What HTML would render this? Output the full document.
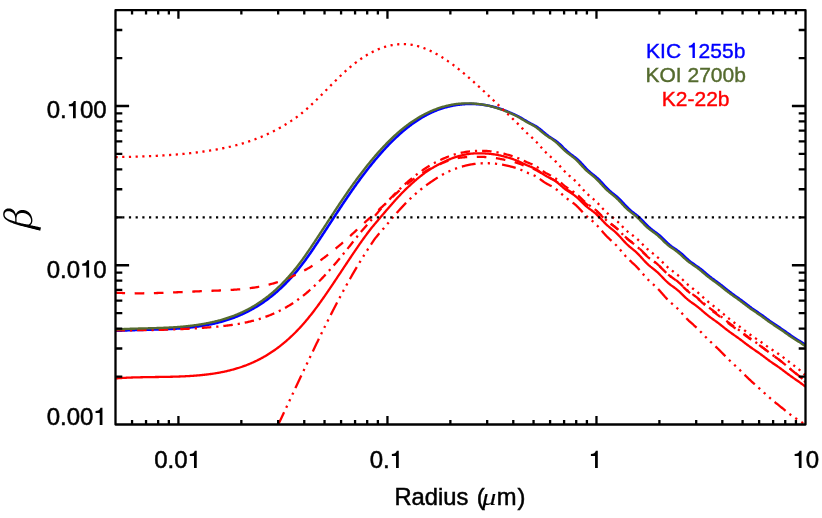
<!DOCTYPE html>
<html><head><meta charset="utf-8"><title>beta vs radius</title>
<style>html,body{margin:0;padding:0;background:#fff;}body{width:822px;height:518px;position:relative;overflow:hidden;font-family:"Liberation Sans",sans-serif;}</style></head>
<body>
<svg width="822" height="518" viewBox="0 0 822 518" style="position:absolute;left:0;top:0">
<rect x="0" y="0" width="822" height="518" fill="#fff"/>
<defs><clipPath id="c"><rect x="115.5" y="10.2" width="690.0" height="414.3"/></clipPath></defs>
<g clip-path="url(#c)" fill="none" stroke-linejoin="round">
<path d="M115.50 330.76 L116.27 330.76 L117.04 330.76 L117.80 330.76 L118.57 330.76 L119.34 330.73 L120.11 330.69 L120.87 330.65 L121.64 330.61 L122.41 330.57 L123.18 330.53 L123.94 330.49 L124.71 330.46 L125.48 330.42 L126.25 330.39 L127.01 330.36 L127.78 330.32 L128.55 330.29 L129.32 330.26 L130.08 330.23 L130.85 330.21 L131.62 330.18 L132.39 330.15 L133.15 330.13 L133.92 330.10 L134.69 330.08 L135.46 330.05 L136.22 330.03 L136.99 330.01 L137.76 329.98 L138.53 329.96 L139.29 329.94 L140.06 329.92 L140.83 329.90 L141.60 329.88 L142.36 329.86 L143.13 329.84 L143.90 329.82 L144.67 329.80 L145.43 329.78 L146.20 329.76 L146.97 329.74 L147.74 329.72 L148.50 329.70 L149.27 329.68 L150.04 329.66 L150.81 329.64 L151.57 329.62 L152.34 329.60 L153.11 329.58 L153.88 329.55 L154.64 329.53 L155.41 329.51 L156.18 329.49 L156.95 329.47 L157.71 329.44 L158.48 329.42 L159.25 329.39 L160.02 329.37 L160.78 329.34 L161.55 329.32 L162.32 329.29 L163.09 329.26 L163.85 329.23 L164.62 329.20 L165.39 329.17 L166.16 329.14 L166.92 329.11 L167.69 329.07 L168.46 329.04 L169.23 329.00 L169.99 328.96 L170.76 328.93 L171.53 328.89 L172.30 328.85 L173.06 328.80 L173.83 328.76 L174.60 328.72 L175.37 328.67 L176.13 328.62 L176.90 328.57 L177.67 328.52 L178.44 328.47 L179.20 328.42 L179.97 328.36 L180.74 328.30 L181.51 328.24 L182.27 328.18 L183.04 328.12 L183.81 328.06 L184.58 327.99 L185.34 327.92 L186.11 327.85 L186.88 327.78 L187.65 327.70 L188.41 327.63 L189.18 327.55 L189.95 327.47 L190.72 327.38 L191.48 327.30 L192.25 327.21 L193.02 327.12 L193.79 327.03 L194.55 326.93 L195.32 326.83 L196.09 326.73 L196.86 326.63 L197.62 326.52 L198.39 326.42 L199.16 326.31 L199.93 326.19 L200.69 326.07 L201.46 325.96 L202.23 325.83 L203.00 325.71 L203.76 325.58 L204.53 325.45 L205.30 325.31 L206.07 325.17 L206.83 325.03 L207.60 324.89 L208.37 324.74 L209.14 324.59 L209.90 324.44 L210.67 324.28 L211.44 324.12 L212.21 323.95 L212.97 323.79 L213.74 323.61 L214.51 323.44 L215.28 323.26 L216.05 323.08 L216.81 322.89 L217.58 322.70 L218.35 322.51 L219.12 322.31 L219.88 322.11 L220.65 321.90 L221.42 321.69 L222.19 321.47 L222.95 321.26 L223.72 321.03 L224.49 320.80 L225.26 320.57 L226.02 320.34 L226.79 320.09 L227.56 319.85 L228.33 319.60 L229.09 319.34 L229.86 319.08 L230.63 318.82 L231.40 318.55 L232.16 318.27 L232.93 317.99 L233.70 317.71 L234.47 317.42 L235.23 317.12 L236.00 316.82 L236.77 316.51 L237.54 316.20 L238.30 315.89 L239.07 315.56 L239.84 315.24 L240.61 314.90 L241.37 314.57 L242.14 314.22 L242.91 313.87 L243.68 313.52 L244.44 313.15 L245.21 312.79 L245.98 312.41 L246.75 312.04 L247.51 311.65 L248.28 311.26 L249.05 310.86 L249.82 310.46 L250.58 310.05 L251.35 309.64 L252.12 309.21 L252.89 308.78 L253.65 308.35 L254.42 307.91 L255.19 307.46 L255.96 307.01 L256.72 306.54 L257.49 306.07 L258.26 305.60 L259.03 305.12 L259.79 304.63 L260.56 304.13 L261.33 303.63 L262.10 303.12 L262.86 302.60 L263.63 302.07 L264.40 301.54 L265.17 301.00 L265.93 300.45 L266.70 299.89 L267.47 299.33 L268.24 298.75 L269.00 298.17 L269.77 297.58 L270.54 296.99 L271.31 296.38 L272.07 295.77 L272.84 295.15 L273.61 294.52 L274.38 293.88 L275.14 293.23 L275.91 292.58 L276.68 291.91 L277.45 291.24 L278.21 290.56 L278.98 289.86 L279.75 289.16 L280.52 288.45 L281.28 287.74 L282.05 287.01 L282.82 286.27 L283.59 285.52 L284.35 284.77 L285.12 284.00 L285.89 283.22 L286.66 282.44 L287.42 281.64 L288.19 280.84 L288.96 280.02 L289.73 279.20 L290.49 278.36 L291.26 277.52 L292.03 276.66 L292.80 275.79 L293.56 274.92 L294.33 274.03 L295.10 273.13 L295.87 272.22 L296.63 271.31 L297.40 270.38 L298.17 269.43 L298.94 268.48 L299.70 267.52 L300.47 266.55 L301.24 265.56 L302.01 264.57 L302.77 263.56 L303.54 262.54 L304.31 261.51 L305.08 260.47 L305.84 259.41 L306.61 258.35 L307.38 257.28 L308.15 256.19 L308.91 255.10 L309.68 254.00 L310.45 252.89 L311.22 251.78 L311.98 250.66 L312.75 249.53 L313.52 248.40 L314.29 247.26 L315.06 246.12 L315.82 244.98 L316.59 243.83 L317.36 242.68 L318.13 241.53 L318.89 240.37 L319.66 239.21 L320.43 238.05 L321.20 236.89 L321.96 235.72 L322.73 234.55 L323.50 233.38 L324.27 232.21 L325.03 231.04 L325.80 229.86 L326.57 228.69 L327.34 227.51 L328.10 226.34 L328.87 225.16 L329.64 223.98 L330.41 222.81 L331.17 221.63 L331.94 220.45 L332.71 219.28 L333.48 218.10 L334.24 216.92 L335.01 215.75 L335.78 214.58 L336.55 213.41 L337.31 212.24 L338.08 211.07 L338.85 209.91 L339.62 208.74 L340.38 207.58 L341.15 206.43 L341.92 205.27 L342.69 204.12 L343.45 202.97 L344.22 201.82 L344.99 200.68 L345.76 199.54 L346.52 198.41 L347.29 197.28 L348.06 196.15 L348.83 195.03 L349.59 193.92 L350.36 192.81 L351.13 191.70 L351.90 190.60 L352.66 189.50 L353.43 188.41 L354.20 187.33 L354.97 186.25 L355.73 185.17 L356.50 184.10 L357.27 183.04 L358.04 181.98 L358.80 180.93 L359.57 179.88 L360.34 178.84 L361.11 177.81 L361.87 176.78 L362.64 175.75 L363.41 174.74 L364.18 173.72 L364.94 172.72 L365.71 171.72 L366.48 170.72 L367.25 169.74 L368.01 168.76 L368.78 167.78 L369.55 166.81 L370.32 165.85 L371.08 164.89 L371.85 163.94 L372.62 163.00 L373.39 162.06 L374.15 161.13 L374.92 160.20 L375.69 159.28 L376.46 158.37 L377.22 157.47 L377.99 156.57 L378.76 155.68 L379.53 154.79 L380.29 153.92 L381.06 153.05 L381.83 152.18 L382.60 151.32 L383.36 150.47 L384.13 149.63 L384.90 148.79 L385.67 147.97 L386.43 147.14 L387.20 146.33 L387.97 145.52 L388.74 144.72 L389.50 143.93 L390.27 143.14 L391.04 142.37 L391.81 141.60 L392.57 140.83 L393.34 140.08 L394.11 139.33 L394.88 138.59 L395.64 137.86 L396.41 137.13 L397.18 136.42 L397.95 135.71 L398.71 135.01 L399.48 134.31 L400.25 133.63 L401.02 132.95 L401.78 132.28 L402.55 131.62 L403.32 130.97 L404.09 130.32 L404.85 129.68 L405.62 129.06 L406.39 128.44 L407.16 127.82 L407.92 127.22 L408.69 126.62 L409.46 126.03 L410.23 125.45 L410.99 124.88 L411.76 124.32 L412.53 123.76 L413.30 123.21 L414.07 122.67 L414.83 122.14 L415.60 121.61 L416.37 121.10 L417.14 120.59 L417.90 120.09 L418.67 119.60 L419.44 119.11 L420.21 118.63 L420.97 118.16 L421.74 117.70 L422.51 117.25 L423.28 116.81 L424.04 116.37 L424.81 115.94 L425.58 115.52 L426.35 115.10 L427.11 114.70 L427.88 114.30 L428.65 113.91 L429.42 113.53 L430.18 113.16 L430.95 112.79 L431.72 112.44 L432.49 112.09 L433.25 111.75 L434.02 111.41 L434.79 111.09 L435.56 110.77 L436.32 110.46 L437.09 110.16 L437.86 109.87 L438.63 109.58 L439.39 109.31 L440.16 109.04 L440.93 108.78 L441.70 108.52 L442.46 108.28 L443.23 108.04 L444.00 107.80 L444.77 107.58 L445.53 107.36 L446.30 107.15 L447.07 106.95 L447.84 106.76 L448.60 106.57 L449.37 106.39 L450.14 106.21 L450.91 106.04 L451.67 105.88 L452.44 105.72 L453.21 105.57 L453.98 105.43 L454.74 105.30 L455.51 105.17 L456.28 105.04 L457.05 104.92 L457.81 104.81 L458.58 104.71 L459.35 104.61 L460.12 104.52 L460.88 104.43 L461.65 104.36 L462.42 104.28 L463.19 104.22 L463.95 104.16 L464.72 104.10 L465.49 104.06 L466.26 104.02 L467.02 103.98 L467.79 103.96 L468.56 103.94 L469.33 103.92 L470.09 103.91 L470.86 103.91 L471.63 103.92 L472.40 103.93 L473.16 103.95 L473.93 103.97 L474.70 104.00 L475.47 104.04 L476.23 104.09 L477.00 104.14 L477.77 104.19 L478.54 104.26 L479.30 104.33 L480.07 104.41 L480.84 104.49 L481.61 104.58 L482.37 104.68 L483.14 104.78 L483.91 104.89 L484.68 105.01 L485.44 105.13 L486.21 105.26 L486.98 105.40 L487.75 105.54 L488.51 105.69 L489.28 105.85 L490.05 106.01 L490.82 106.18 L491.58 106.36 L492.35 106.54 L493.12 106.73 L493.89 106.93 L494.65 107.13 L495.42 107.34 L496.19 107.56 L496.96 107.79 L497.72 108.02 L498.49 108.25 L499.26 108.50 L500.03 108.75 L500.79 109.01 L501.56 109.27 L502.33 109.55 L503.10 109.82 L503.86 110.11 L504.63 110.40 L505.40 110.70 L506.17 111.00 L506.93 111.31 L507.70 111.62 L508.47 111.94 L509.24 112.26 L510.01 112.59 L510.77 112.92 L511.54 113.25 L512.31 113.59 L513.08 113.93 L513.84 114.28 L514.61 114.62 L515.38 114.98 L516.15 115.34 L516.91 115.71 L517.68 116.09 L518.45 116.48 L519.22 116.88 L519.98 117.29 L520.75 117.71 L521.52 118.15 L522.29 118.60 L523.05 119.06 L523.82 119.52 L524.59 119.99 L525.36 120.47 L526.12 120.94 L526.89 121.40 L527.66 121.86 L528.43 122.30 L529.19 122.73 L529.96 123.15 L530.73 123.56 L531.50 123.96 L532.26 124.36 L533.03 124.75 L533.80 125.15 L534.57 125.57 L535.33 125.99 L536.10 126.45 L536.87 126.92 L537.64 127.42 L538.40 127.96 L539.17 128.52 L539.94 129.10 L540.71 129.71 L541.47 130.34 L542.24 130.98 L543.01 131.64 L543.78 132.31 L544.54 132.96 L545.31 133.60 L546.08 134.23 L546.85 134.83 L547.61 135.42 L548.38 135.98 L549.15 136.51 L549.92 137.03 L550.68 137.53 L551.45 138.02 L552.22 138.51 L552.99 139.00 L553.75 139.49 L554.52 140.00 L555.29 140.54 L556.06 141.09 L556.82 141.67 L557.59 142.29 L558.36 142.93 L559.13 143.61 L559.89 144.31 L560.66 145.03 L561.43 145.78 L562.20 146.53 L562.96 147.30 L563.73 148.06 L564.50 148.82 L565.27 149.56 L566.03 150.29 L566.80 151.00 L567.57 151.68 L568.34 152.34 L569.10 152.97 L569.87 153.58 L570.64 154.17 L571.41 154.75 L572.17 155.32 L572.94 155.88 L573.71 156.45 L574.48 157.03 L575.24 157.62 L576.01 158.23 L576.78 158.87 L577.55 159.54 L578.31 160.24 L579.08 160.97 L579.85 161.73 L580.62 162.52 L581.38 163.33 L582.15 164.15 L582.92 164.99 L583.69 165.83 L584.45 166.66 L585.22 167.49 L585.99 168.30 L586.76 169.09 L587.52 169.85 L588.29 170.59 L589.06 171.30 L589.83 171.99 L590.59 172.65 L591.36 173.29 L592.13 173.91 L592.90 174.52 L593.66 175.13 L594.43 175.74 L595.20 176.36 L595.97 176.99 L596.73 177.65 L597.50 178.33 L598.27 179.04 L599.04 179.77 L599.80 180.53 L600.57 181.32 L601.34 182.14 L602.11 182.96 L602.87 183.81 L603.64 184.65 L604.41 185.50 L605.18 186.34 L605.94 187.16 L606.71 187.97 L607.48 188.75 L608.25 189.50 L609.02 190.23 L609.78 190.93 L610.55 191.61 L611.32 192.26 L612.09 192.89 L612.85 193.50 L613.62 194.11 L614.39 194.72 L615.16 195.33 L615.92 195.96 L616.69 196.60 L617.46 197.26 L618.23 197.95 L618.99 198.66 L619.76 199.40 L620.53 200.17 L621.30 200.96 L622.06 201.77 L622.83 202.60 L623.60 203.43 L624.37 204.27 L625.13 205.10 L625.90 205.92 L626.67 206.73 L627.44 207.51 L628.20 208.27 L628.97 209.00 L629.74 209.70 L630.51 210.38 L631.27 211.03 L632.04 211.65 L632.81 212.26 L633.58 212.86 L634.34 213.45 L635.11 214.04 L635.88 214.63 L636.65 215.24 L637.41 215.87 L638.18 216.52 L638.95 217.19 L639.72 217.89 L640.48 218.62 L641.25 219.37 L642.02 220.14 L642.79 220.92 L643.55 221.72 L644.32 222.53 L645.09 223.34 L645.86 224.13 L646.62 224.92 L647.39 225.69 L648.16 226.43 L648.93 227.15 L649.69 227.83 L650.46 228.49 L651.23 229.13 L652.00 229.73 L652.76 230.32 L653.53 230.89 L654.30 231.44 L655.07 232.00 L655.83 232.55 L656.60 233.11 L657.37 233.69 L658.14 234.28 L658.90 234.90 L659.67 235.54 L660.44 236.21 L661.21 236.90 L661.97 237.62 L662.74 238.35 L663.51 239.10 L664.28 239.86 L665.04 240.62 L665.81 241.38 L666.58 242.13 L667.35 242.87 L668.11 243.58 L668.88 244.27 L669.65 244.93 L670.42 245.56 L671.18 246.17 L671.95 246.75 L672.72 247.31 L673.49 247.84 L674.25 248.37 L675.02 248.88 L675.79 249.40 L676.56 249.92 L677.32 250.45 L678.09 251.00 L678.86 251.57 L679.63 252.17 L680.39 252.78 L681.16 253.43 L681.93 254.10 L682.70 254.79 L683.46 255.49 L684.23 256.21 L685.00 256.93 L685.77 257.65 L686.53 258.37 L687.30 259.07 L688.07 259.76 L688.84 260.42 L689.60 261.07 L690.37 261.68 L691.14 262.28 L691.91 262.85 L692.67 263.39 L693.44 263.93 L694.21 264.45 L694.98 264.96 L695.74 265.47 L696.51 265.99 L697.28 266.51 L698.05 267.05 L698.81 267.60 L699.58 268.17 L700.35 268.76 L701.12 269.36 L701.88 269.98 L702.65 270.61 L703.42 271.26 L704.19 271.91 L704.95 272.57 L705.72 273.22 L706.49 273.87 L707.26 274.51 L708.03 275.17 L708.79 275.81 L709.56 276.44 L710.33 277.05 L711.10 277.65 L711.86 278.24 L712.63 278.81 L713.40 279.38 L714.17 279.93 L714.93 280.49 L715.70 281.04 L716.47 281.59 L717.24 282.14 L718.00 282.70 L718.77 283.27 L719.54 283.84 L720.31 284.42 L721.07 285.01 L721.84 285.60 L722.61 286.21 L723.38 286.82 L724.14 287.43 L724.91 288.05 L725.68 288.67 L726.45 289.29 L727.21 289.91 L727.98 290.52 L728.75 291.13 L729.52 291.73 L730.28 292.32 L731.05 292.90 L731.82 293.48 L732.59 294.05 L733.35 294.60 L734.12 295.16 L734.89 295.70 L735.66 296.25 L736.42 296.79 L737.19 297.33 L737.96 297.87 L738.73 298.41 L739.49 298.96 L740.26 299.51 L741.03 300.07 L741.80 300.64 L742.56 301.21 L743.33 301.79 L744.10 302.37 L744.87 302.96 L745.63 303.55 L746.40 304.14 L747.17 304.73 L747.94 305.31 L748.70 305.90 L749.47 306.48 L750.24 307.05 L751.01 307.62 L751.77 308.18 L752.54 308.73 L753.31 309.27 L754.08 309.81 L754.84 310.34 L755.61 310.86 L756.38 311.38 L757.15 311.90 L757.91 312.42 L758.68 312.95 L759.45 313.47 L760.22 314.00 L760.98 314.53 L761.75 315.07 L762.52 315.62 L763.29 316.17 L764.05 316.72 L764.82 317.29 L765.59 317.85 L766.36 318.42 L767.12 318.99 L767.89 319.56 L768.66 320.12 L769.43 320.68 L770.19 321.24 L770.96 321.79 L771.73 322.33 L772.50 322.87 L773.26 323.40 L774.03 323.92 L774.80 324.43 L775.57 324.94 L776.33 325.44 L777.10 325.95 L777.87 326.45 L778.64 326.95 L779.40 327.45 L780.17 327.95 L780.94 328.47 L781.71 328.98 L782.47 329.50 L783.24 330.03 L784.01 330.57 L784.78 331.11 L785.54 331.65 L786.31 332.20 L787.08 332.75 L787.85 333.30 L788.61 333.85 L789.38 334.39 L790.15 334.93 L790.92 335.47 L791.68 336.00 L792.45 336.52 L793.22 337.04 L793.99 337.54 L794.75 338.04 L795.52 338.54 L796.29 339.03 L797.06 339.51 L797.82 339.99 L798.59 340.48 L799.36 340.96 L800.13 341.45 L800.89 341.94 L801.66 342.43 L802.43 342.93 L803.20 343.44 L803.96 343.95 L804.73 344.47 L805.50 345.00" stroke="#0000ff" stroke-width="2.6"/>
<path d="M115.50 292.68 L116.27 292.72 L117.04 292.76 L117.80 292.80 L118.57 292.84 L119.34 292.87 L120.11 292.91 L120.87 292.94 L121.64 292.97 L122.41 293.00 L123.18 293.03 L123.94 293.05 L124.71 293.08 L125.48 293.10 L126.25 293.12 L127.01 293.14 L127.78 293.16 L128.55 293.18 L129.32 293.20 L130.08 293.21 L130.85 293.23 L131.62 293.24 L132.39 293.25 L133.15 293.26 L133.92 293.27 L134.69 293.27 L135.46 293.28 L136.22 293.29 L136.99 293.29 L137.76 293.29 L138.53 293.29 L139.29 293.29 L140.06 293.29 L140.83 293.29 L141.60 293.29 L142.36 293.28 L143.13 293.28 L143.90 293.27 L144.67 293.26 L145.43 293.25 L146.20 293.24 L146.97 293.23 L147.74 293.22 L148.50 293.21 L149.27 293.20 L150.04 293.18 L150.81 293.17 L151.57 293.15 L152.34 293.14 L153.11 293.12 L153.88 293.10 L154.64 293.08 L155.41 293.06 L156.18 293.04 L156.95 293.02 L157.71 293.00 L158.48 292.97 L159.25 292.95 L160.02 292.93 L160.78 292.90 L161.55 292.88 L162.32 292.85 L163.09 292.83 L163.85 292.80 L164.62 292.77 L165.39 292.74 L166.16 292.71 L166.92 292.69 L167.69 292.66 L168.46 292.63 L169.23 292.60 L169.99 292.57 L170.76 292.53 L171.53 292.50 L172.30 292.47 L173.06 292.44 L173.83 292.41 L174.60 292.37 L175.37 292.34 L176.13 292.31 L176.90 292.27 L177.67 292.24 L178.44 292.21 L179.20 292.17 L179.97 292.14 L180.74 292.10 L181.51 292.07 L182.27 292.03 L183.04 292.00 L183.81 291.96 L184.58 291.93 L185.34 291.89 L186.11 291.86 L186.88 291.82 L187.65 291.79 L188.41 291.75 L189.18 291.72 L189.95 291.68 L190.72 291.65 L191.48 291.61 L192.25 291.58 L193.02 291.54 L193.79 291.51 L194.55 291.48 L195.32 291.44 L196.09 291.41 L196.86 291.38 L197.62 291.34 L198.39 291.31 L199.16 291.28 L199.93 291.24 L200.69 291.21 L201.46 291.18 L202.23 291.15 L203.00 291.12 L203.76 291.09 L204.53 291.06 L205.30 291.03 L206.07 291.00 L206.83 290.97 L207.60 290.94 L208.37 290.91 L209.14 290.88 L209.90 290.86 L210.67 290.83 L211.44 290.80 L212.21 290.77 L212.97 290.75 L213.74 290.72 L214.51 290.69 L215.28 290.66 L216.05 290.63 L216.81 290.60 L217.58 290.57 L218.35 290.54 L219.12 290.51 L219.88 290.48 L220.65 290.45 L221.42 290.42 L222.19 290.39 L222.95 290.35 L223.72 290.32 L224.49 290.28 L225.26 290.24 L226.02 290.21 L226.79 290.17 L227.56 290.13 L228.33 290.09 L229.09 290.04 L229.86 290.00 L230.63 289.95 L231.40 289.91 L232.16 289.86 L232.93 289.81 L233.70 289.76 L234.47 289.70 L235.23 289.65 L236.00 289.59 L236.77 289.53 L237.54 289.47 L238.30 289.41 L239.07 289.34 L239.84 289.28 L240.61 289.21 L241.37 289.14 L242.14 289.06 L242.91 288.99 L243.68 288.91 L244.44 288.83 L245.21 288.74 L245.98 288.66 L246.75 288.57 L247.51 288.48 L248.28 288.38 L249.05 288.28 L249.82 288.18 L250.58 288.08 L251.35 287.98 L252.12 287.87 L252.89 287.75 L253.65 287.64 L254.42 287.52 L255.19 287.40 L255.96 287.27 L256.72 287.14 L257.49 287.01 L258.26 286.87 L259.03 286.74 L259.79 286.59 L260.56 286.45 L261.33 286.29 L262.10 286.14 L262.86 285.98 L263.63 285.82 L264.40 285.65 L265.17 285.48 L265.93 285.31 L266.70 285.13 L267.47 284.95 L268.24 284.76 L269.00 284.57 L269.77 284.37 L270.54 284.17 L271.31 283.96 L272.07 283.76 L272.84 283.54 L273.61 283.32 L274.38 283.10 L275.14 282.87 L275.91 282.63 L276.68 282.40 L277.45 282.15 L278.21 281.90 L278.98 281.65 L279.75 281.39 L280.52 281.13 L281.28 280.86 L282.05 280.58 L282.82 280.30 L283.59 280.01 L284.35 279.72 L285.12 279.43 L285.89 279.12 L286.66 278.81 L287.42 278.50 L288.19 278.18 L288.96 277.85 L289.73 277.52 L290.49 277.18 L291.26 276.84 L292.03 276.49 L292.80 276.13 L293.56 275.77 L294.33 275.40 L295.10 275.02 L295.87 274.64 L296.63 274.25 L297.40 273.86 L298.17 273.47 L298.94 273.12 L299.70 272.75 L300.47 272.39 L301.24 272.01 L302.01 271.63 L302.77 271.25 L303.54 270.85 L304.31 270.45 L305.08 270.04 L305.84 269.63 L306.61 269.21 L307.38 268.78 L308.15 268.35 L308.91 267.90 L309.68 267.46 L310.45 267.00 L311.22 266.54 L311.98 266.06 L312.75 265.59 L313.52 265.10 L314.29 264.61 L315.06 264.11 L315.82 263.60 L316.59 263.08 L317.36 262.56 L318.13 262.03 L318.89 261.49 L319.66 260.94 L320.43 260.39 L321.20 259.83 L321.96 259.27 L322.73 258.70 L323.50 258.13 L324.27 257.55 L325.03 256.97 L325.80 256.39 L326.57 255.80 L327.34 255.21 L328.10 254.62 L328.87 254.02 L329.64 253.42 L330.41 252.82 L331.17 252.21 L331.94 251.60 L332.71 250.98 L333.48 250.36 L334.24 249.74 L335.01 249.12 L335.78 248.49 L336.55 247.86 L337.31 247.23 L338.08 246.59 L338.85 245.96 L339.62 245.31 L340.38 244.67 L341.15 244.02 L341.92 243.36 L342.69 242.70 L343.45 242.03 L344.22 241.36 L344.99 240.68 L345.76 240.00 L346.52 239.32 L347.29 238.62 L348.06 237.93 L348.83 237.23 L349.59 236.53 L350.36 235.83 L351.13 235.12 L351.90 234.42 L352.66 233.71 L353.43 233.00 L354.20 232.29 L354.97 231.57 L355.73 230.86 L356.50 230.15 L357.27 229.44 L358.04 228.72 L358.80 228.01 L359.57 227.30 L360.34 226.59 L361.11 225.89 L361.87 225.18 L362.64 224.48 L363.41 223.78 L364.18 223.08 L364.94 222.38 L365.71 221.67 L366.48 220.97 L367.25 220.27 L368.01 219.57 L368.78 218.87 L369.55 218.18 L370.32 217.48 L371.08 216.78 L371.85 216.08 L372.62 215.38 L373.39 214.69 L374.15 213.99 L374.92 213.29 L375.69 212.60 L376.46 211.90 L377.22 211.20 L377.99 210.51 L378.76 209.81 L379.53 209.12 L380.29 208.42 L381.06 207.73 L381.83 207.03 L382.60 206.34 L383.36 205.64 L384.13 204.95 L384.90 204.25 L385.67 203.56 L386.43 202.85 L387.20 202.13 L387.97 201.40 L388.74 200.67 L389.50 199.93 L390.27 199.19 L391.04 198.45 L391.81 197.71 L392.57 196.97 L393.34 196.23 L394.11 195.49 L394.88 194.76 L395.64 194.03 L396.41 193.32 L397.18 192.61 L397.95 191.91 L398.71 191.22 L399.48 190.55 L400.25 189.89 L401.02 189.24 L401.78 188.59 L402.55 187.94 L403.32 187.30 L404.09 186.66 L404.85 186.02 L405.62 185.39 L406.39 184.77 L407.16 184.14 L407.92 183.53 L408.69 182.92 L409.46 182.31 L410.23 181.71 L410.99 181.12 L411.76 180.53 L412.53 179.95 L413.30 179.38 L414.07 178.81 L414.83 178.26 L415.60 177.71 L416.37 177.17 L417.14 176.63 L417.90 176.11 L418.67 175.59 L419.44 175.08 L420.21 174.57 L420.97 174.08 L421.74 173.58 L422.51 173.10 L423.28 172.62 L424.04 172.14 L424.81 171.68 L425.58 171.22 L426.35 170.77 L427.11 170.34 L427.88 169.92 L428.65 169.51 L429.42 169.11 L430.18 168.72 L430.95 168.34 L431.72 167.96 L432.49 167.60 L433.25 167.24 L434.02 166.88 L434.79 166.52 L435.56 166.17 L436.32 165.82 L437.09 165.47 L437.86 165.13 L438.63 164.77 L439.39 164.42 L440.16 164.06 L440.93 163.71 L441.70 163.37 L442.46 163.03 L443.23 162.70 L444.00 162.39 L444.77 162.08 L445.53 161.77 L446.30 161.48 L447.07 161.20 L447.84 160.92 L448.60 160.65 L449.37 160.39 L450.14 160.14 L450.91 159.89 L451.67 159.66 L452.44 159.43 L453.21 159.21 L453.98 158.99 L454.74 158.79 L455.51 158.59 L456.28 158.41 L457.05 158.25 L457.81 158.10 L458.58 157.96 L459.35 157.83 L460.12 157.72 L460.88 157.62 L461.65 157.53 L462.42 157.45 L463.19 157.38 L463.95 157.31 L464.72 157.26 L465.49 157.21 L466.26 157.17 L467.02 157.13 L467.79 157.10 L468.56 157.07 L469.33 157.05 L470.09 157.02 L470.86 157.00 L471.63 156.98 L472.40 156.96 L473.16 156.94 L473.93 156.92 L474.70 156.90 L475.47 156.88 L476.23 156.86 L477.00 156.84 L477.77 156.83 L478.54 156.83 L479.30 156.84 L480.07 156.84 L480.84 156.86 L481.61 156.88 L482.37 156.90 L483.14 156.93 L483.91 156.97 L484.68 157.00 L485.44 157.05 L486.21 157.10 L486.98 157.15 L487.75 157.21 L488.51 157.28 L489.28 157.35 L490.05 157.42 L490.82 157.50 L491.58 157.59 L492.35 157.68 L493.12 157.78 L493.89 157.88 L494.65 157.98 L495.42 158.09 L496.19 158.21 L496.96 158.33 L497.72 158.46 L498.49 158.59 L499.26 158.73 L500.03 158.88 L500.79 159.02 L501.56 159.18 L502.33 159.33 L503.10 159.49 L503.86 159.64 L504.63 159.81 L505.40 159.97 L506.17 160.14 L506.93 160.31 L507.70 160.48 L508.47 160.65 L509.24 160.82 L510.01 161.00 L510.77 161.18 L511.54 161.37 L512.31 161.55 L513.08 161.75 L513.84 161.95 L514.61 162.15 L515.38 162.37 L516.15 162.60 L516.91 162.84 L517.68 163.09 L518.45 163.36 L519.22 163.63 L519.98 163.93 L520.75 164.23 L521.52 164.54 L522.29 164.86 L523.05 165.18 L523.82 165.50 L524.59 165.81 L525.36 166.11 L526.12 166.41 L526.89 166.69 L527.66 166.96 L528.43 167.22 L529.19 167.47 L529.96 167.71 L530.73 167.96 L531.50 168.21 L532.26 168.47 L533.03 168.75 L533.80 169.04 L534.57 169.37 L535.33 169.72 L536.10 170.10 L536.87 170.51 L537.64 170.95 L538.40 171.40 L539.17 171.88 L539.94 172.37 L540.71 172.89 L541.47 173.40 L542.24 173.92 L543.01 174.41 L543.78 174.90 L544.54 175.36 L545.31 175.80 L546.08 176.22 L546.85 176.61 L547.61 176.99 L548.38 177.35 L549.15 177.70 L549.92 178.04 L550.68 178.38 L551.45 178.74 L552.22 179.10 L552.99 179.49 L553.75 179.90 L554.52 180.34 L555.29 180.81 L556.06 181.31 L556.82 181.84 L557.59 182.40 L558.36 182.98 L559.13 183.58 L559.89 184.20 L560.66 184.82 L561.43 185.45 L562.20 186.07 L562.96 186.68 L563.73 187.28 L564.50 187.85 L565.27 188.40 L566.03 188.93 L566.80 189.43 L567.57 189.91 L568.34 190.37 L569.10 190.82 L569.87 191.26 L570.64 191.69 L571.41 192.13 L572.17 192.57 L572.94 193.03 L573.71 193.51 L574.48 194.02 L575.24 194.56 L576.01 195.12 L576.78 195.72 L577.55 196.34 L578.31 196.99 L579.08 197.66 L579.85 198.35 L580.62 199.05 L581.38 199.76 L582.15 200.46 L582.92 201.16 L583.69 201.84 L584.45 202.50 L585.22 203.14 L585.99 203.76 L586.76 204.35 L587.52 204.91 L588.29 205.46 L589.06 205.98 L589.83 206.49 L590.59 206.99 L591.36 207.49 L592.13 208.00 L592.90 208.51 L593.66 209.04 L594.43 209.60 L595.20 210.17 L595.97 210.78 L596.73 211.42 L597.50 212.08 L598.27 212.77 L599.04 213.49 L599.80 214.23 L600.57 214.98 L601.34 215.73 L602.11 216.49 L602.87 217.25 L603.64 217.99 L604.41 218.72 L605.18 219.42 L605.94 220.10 L606.71 220.76 L607.48 221.38 L608.25 221.99 L609.02 222.57 L609.78 223.13 L610.55 223.68 L611.32 224.22 L612.09 224.77 L612.85 225.31 L613.62 225.87 L614.39 226.45 L615.16 227.05 L615.92 227.68 L616.69 228.33 L617.46 229.01 L618.23 229.72 L618.99 230.46 L619.76 231.21 L620.53 231.98 L621.30 232.77 L622.06 233.56 L622.83 234.34 L623.60 235.12 L624.37 235.89 L625.13 236.63 L625.90 237.35 L626.67 238.05 L627.44 238.72 L628.20 239.36 L628.97 239.97 L629.74 240.57 L630.51 241.15 L631.27 241.71 L632.04 242.27 L632.81 242.83 L633.58 243.40 L634.34 243.98 L635.11 244.58 L635.88 245.20 L636.65 245.84 L637.41 246.52 L638.18 247.22 L638.95 247.95 L639.72 248.70 L640.48 249.47 L641.25 250.26 L642.02 251.05 L642.79 251.84 L643.55 252.63 L644.32 253.41 L645.09 254.17 L645.86 254.91 L646.62 255.63 L647.39 256.31 L648.16 256.97 L648.93 257.61 L649.69 258.22 L650.46 258.80 L651.23 259.38 L652.00 259.94 L652.76 260.49 L653.53 261.05 L654.30 261.62 L655.07 262.21 L655.83 262.81 L656.60 263.44 L657.37 264.09 L658.14 264.77 L658.90 265.48 L659.67 266.21 L660.44 266.96 L661.21 267.73 L661.97 268.51 L662.74 269.30 L663.51 270.08 L664.28 270.86 L665.04 271.62 L665.81 272.36 L666.58 273.08 L667.35 273.78 L668.11 274.45 L668.88 275.08 L669.65 275.70 L670.42 276.29 L671.18 276.86 L671.95 277.42 L672.72 277.97 L673.49 278.52 L674.25 279.07 L675.02 279.63 L675.79 280.22 L676.56 280.82 L677.32 281.44 L678.09 282.09 L678.86 282.77 L679.63 283.46 L680.39 284.18 L681.16 284.92 L681.93 285.67 L682.70 286.43 L683.46 287.19 L684.23 287.94 L685.00 288.68 L685.77 289.41 L686.53 290.11 L687.30 290.79 L688.07 291.45 L688.84 292.08 L689.60 292.69 L690.37 293.28 L691.14 293.85 L691.91 294.41 L692.67 294.96 L693.44 295.51 L694.21 296.06 L694.98 296.62 L695.74 297.19 L696.51 297.78 L697.28 298.38 L698.05 299.00 L698.81 299.64 L699.58 300.29 L700.35 300.96 L701.12 301.64 L701.88 302.33 L702.65 303.02 L703.42 303.71 L704.19 304.39 L704.95 305.07 L705.72 305.74 L706.49 306.39 L707.26 307.04 L708.03 307.66 L708.79 308.27 L709.56 308.87 L710.33 309.46 L711.10 310.03 L711.86 310.60 L712.63 311.16 L713.40 311.72 L714.17 312.28 L714.93 312.84 L715.70 313.41 L716.47 313.98 L717.24 314.55 L718.00 315.14 L718.77 315.73 L719.54 316.33 L720.31 316.93 L721.07 317.55 L721.84 318.16 L722.61 318.78 L723.38 319.40 L724.14 320.02 L724.91 320.63 L725.68 321.24 L726.45 321.85 L727.21 322.45 L727.98 323.03 L728.75 323.61 L729.52 324.18 L730.28 324.74 L731.05 325.30 L731.82 325.84 L732.59 326.38 L733.35 326.91 L734.12 327.44 L734.89 327.97 L735.66 328.49 L736.42 329.02 L737.19 329.56 L737.96 330.09 L738.73 330.63 L739.49 331.18 L740.26 331.74 L741.03 332.30 L741.80 332.86 L742.56 333.43 L743.33 334.01 L744.10 334.58 L744.87 335.15 L745.63 335.73 L746.40 336.30 L747.17 336.86 L747.94 337.42 L748.70 337.97 L749.47 338.52 L750.24 339.06 L751.01 339.59 L751.77 340.12 L752.54 340.64 L753.31 341.15 L754.08 341.67 L754.84 342.18 L755.61 342.69 L756.38 343.21 L757.15 343.73 L757.91 344.25 L758.68 344.79 L759.45 345.32 L760.22 345.87 L760.98 346.43 L761.75 346.99 L762.52 347.56 L763.29 348.13 L764.05 348.71 L764.82 349.29 L765.59 349.87 L766.36 350.46 L767.12 351.04 L767.89 351.62 L768.66 352.19 L769.43 352.76 L770.19 353.33 L770.96 353.89 L771.73 354.45 L772.50 355.00 L773.26 355.55 L774.03 356.09 L774.80 356.64 L775.57 357.19 L776.33 357.74 L777.10 358.30 L777.87 358.86 L778.64 359.43 L779.40 360.01 L780.17 360.60 L780.94 361.20 L781.71 361.81 L782.47 362.42 L783.24 363.05 L784.01 363.68 L784.78 364.32 L785.54 364.97 L786.31 365.61 L787.08 366.26 L787.85 366.91 L788.61 367.56 L789.38 368.20 L790.15 368.84 L790.92 369.48 L791.68 370.12 L792.45 370.75 L793.22 371.38 L793.99 372.01 L794.75 372.64 L795.52 373.28 L796.29 373.92 L797.06 374.56 L797.82 375.21 L798.59 375.87 L799.36 376.54 L800.13 377.22 L800.89 377.92 L801.66 378.62 L802.43 379.34 L803.20 380.06 L803.96 380.80 L804.73 381.55 L805.50 382.30" stroke="#ff0000" stroke-width="2.3" stroke-dasharray="9.6 9.6"/>
<path d="M115.50 330.34 L116.27 330.34 L117.04 330.34 L117.80 330.34 L118.57 330.33 L119.34 330.33 L120.11 330.33 L120.87 330.33 L121.64 330.32 L122.41 330.32 L123.18 330.32 L123.94 330.31 L124.71 330.31 L125.48 330.31 L126.25 330.30 L127.01 330.30 L127.78 330.29 L128.55 330.29 L129.32 330.29 L130.08 330.28 L130.85 330.27 L131.62 330.27 L132.39 330.26 L133.15 330.26 L133.92 330.25 L134.69 330.24 L135.46 330.24 L136.22 330.23 L136.99 330.22 L137.76 330.21 L138.53 330.21 L139.29 330.20 L140.06 330.19 L140.83 330.18 L141.60 330.17 L142.36 330.16 L143.13 330.15 L143.90 330.14 L144.67 330.13 L145.43 330.12 L146.20 330.11 L146.97 330.09 L147.74 330.08 L148.50 330.07 L149.27 330.06 L150.04 330.04 L150.81 330.03 L151.57 330.01 L152.34 330.00 L153.11 329.98 L153.88 329.97 L154.64 329.95 L155.41 329.94 L156.18 329.92 L156.95 329.90 L157.71 329.88 L158.48 329.87 L159.25 329.85 L160.02 329.83 L160.78 329.81 L161.55 329.79 L162.32 329.77 L163.09 329.75 L163.85 329.73 L164.62 329.70 L165.39 329.68 L166.16 329.66 L166.92 329.63 L167.69 329.61 L168.46 329.59 L169.23 329.56 L169.99 329.53 L170.76 329.51 L171.53 329.48 L172.30 329.45 L173.06 329.43 L173.83 329.40 L174.60 329.37 L175.37 329.34 L176.13 329.31 L176.90 329.28 L177.67 329.24 L178.44 329.21 L179.20 329.18 L179.97 329.15 L180.74 329.11 L181.51 329.08 L182.27 329.04 L183.04 329.01 L183.81 328.97 L184.58 328.93 L185.34 328.89 L186.11 328.85 L186.88 328.82 L187.65 328.78 L188.41 328.73 L189.18 328.69 L189.95 328.65 L190.72 328.61 L191.48 328.56 L192.25 328.52 L193.02 328.47 L193.79 328.43 L194.55 328.38 L195.32 328.34 L196.09 328.29 L196.86 328.24 L197.62 328.19 L198.39 328.14 L199.16 328.09 L199.93 328.04 L200.69 327.98 L201.46 327.93 L202.23 327.88 L203.00 327.82 L203.76 327.76 L204.53 327.71 L205.30 327.65 L206.07 327.59 L206.83 327.53 L207.60 327.47 L208.37 327.41 L209.14 327.35 L209.90 327.29 L210.67 327.22 L211.44 327.16 L212.21 327.09 L212.97 327.03 L213.74 326.96 L214.51 326.89 L215.28 326.82 L216.05 326.75 L216.81 326.68 L217.58 326.61 L218.35 326.53 L219.12 326.46 L219.88 326.38 L220.65 326.30 L221.42 326.22 L222.19 326.14 L222.95 326.06 L223.72 325.97 L224.49 325.88 L225.26 325.79 L226.02 325.70 L226.79 325.61 L227.56 325.51 L228.33 325.42 L229.09 325.32 L229.86 325.21 L230.63 325.11 L231.40 325.00 L232.16 324.89 L232.93 324.78 L233.70 324.67 L234.47 324.55 L235.23 324.43 L236.00 324.31 L236.77 324.18 L237.54 324.05 L238.30 323.92 L239.07 323.79 L239.84 323.65 L240.61 323.51 L241.37 323.36 L242.14 323.22 L242.91 323.07 L243.68 322.91 L244.44 322.76 L245.21 322.59 L245.98 322.43 L246.75 322.26 L247.51 322.09 L248.28 321.92 L249.05 321.74 L249.82 321.55 L250.58 321.37 L251.35 321.17 L252.12 320.98 L252.89 320.78 L253.65 320.58 L254.42 320.37 L255.19 320.16 L255.96 319.94 L256.72 319.72 L257.49 319.49 L258.26 319.26 L259.03 319.03 L259.79 318.79 L260.56 318.55 L261.33 318.30 L262.10 318.04 L262.86 317.78 L263.63 317.52 L264.40 317.25 L265.17 316.98 L265.93 316.70 L266.70 316.42 L267.47 316.13 L268.24 315.83 L269.00 315.53 L269.77 315.23 L270.54 314.91 L271.31 314.60 L272.07 314.27 L272.84 313.95 L273.61 313.61 L274.38 313.27 L275.14 312.93 L275.91 312.58 L276.68 312.22 L277.45 311.85 L278.21 311.48 L278.98 311.11 L279.75 310.72 L280.52 310.34 L281.28 309.94 L282.05 309.54 L282.82 309.13 L283.59 308.72 L284.35 308.29 L285.12 307.87 L285.89 307.43 L286.66 306.99 L287.42 306.54 L288.19 306.08 L288.96 305.62 L289.73 305.15 L290.49 304.67 L291.26 304.19 L292.03 303.70 L292.80 303.20 L293.56 302.69 L294.33 302.18 L295.10 301.66 L295.87 301.13 L296.63 300.59 L297.40 300.05 L298.17 299.50 L298.94 298.94 L299.70 298.37 L300.47 297.80 L301.24 297.21 L302.01 296.62 L302.77 296.02 L303.54 295.41 L304.31 294.80 L305.08 294.17 L305.84 293.54 L306.61 292.90 L307.38 292.25 L308.15 291.59 L308.91 290.93 L309.68 290.25 L310.45 289.57 L311.22 288.88 L311.98 288.18 L312.75 287.47 L313.52 286.75 L314.29 286.03 L315.06 285.30 L315.82 284.56 L316.59 283.82 L317.36 283.06 L318.13 282.30 L318.89 281.54 L319.66 280.76 L320.43 279.98 L321.20 279.19 L321.96 278.40 L322.73 277.59 L323.50 276.79 L324.27 275.97 L325.03 275.15 L325.80 274.32 L326.57 273.49 L327.34 272.65 L328.10 271.81 L328.87 270.96 L329.64 270.10 L330.41 269.24 L331.17 268.37 L331.94 267.50 L332.71 266.62 L333.48 265.73 L334.24 264.85 L335.01 263.95 L335.78 263.05 L336.55 262.15 L337.31 261.24 L338.08 260.33 L338.85 259.41 L339.62 258.49 L340.38 257.57 L341.15 256.64 L341.92 255.70 L342.69 254.76 L343.45 253.82 L344.22 252.88 L344.99 251.93 L345.76 250.98 L346.52 250.02 L347.29 249.06 L348.06 248.10 L348.83 247.14 L349.59 246.17 L350.36 245.21 L351.13 244.24 L351.90 243.27 L352.66 242.30 L353.43 241.32 L354.20 240.35 L354.97 239.37 L355.73 238.40 L356.50 237.42 L357.27 236.44 L358.04 235.47 L358.80 234.49 L359.57 233.51 L360.34 232.58 L361.11 231.71 L361.87 230.84 L362.64 229.97 L363.41 229.10 L364.18 228.23 L364.94 227.36 L365.71 226.49 L366.48 225.61 L367.25 224.74 L368.01 223.86 L368.78 222.98 L369.55 222.10 L370.32 221.22 L371.08 220.33 L371.85 219.44 L372.62 218.55 L373.39 217.65 L374.15 216.76 L374.92 215.85 L375.69 214.95 L376.46 214.05 L377.22 213.15 L377.99 212.26 L378.76 211.37 L379.53 210.48 L380.29 209.60 L381.06 208.73 L381.83 207.86 L382.60 206.99 L383.36 206.13 L384.13 205.27 L384.90 204.42 L385.67 203.57 L386.43 202.73 L387.20 201.90 L387.97 201.07 L388.74 200.24 L389.50 199.42 L390.27 198.61 L391.04 197.80 L391.81 197.00 L392.57 196.20 L393.34 195.41 L394.11 194.63 L394.88 193.85 L395.64 193.08 L396.41 192.31 L397.18 191.56 L397.95 190.80 L398.71 190.06 L399.48 189.32 L400.25 188.58 L401.02 187.86 L401.78 187.14 L402.55 186.42 L403.32 185.72 L404.09 185.02 L404.85 184.32 L405.62 183.64 L406.39 182.96 L407.16 182.28 L407.92 181.62 L408.69 180.96 L409.46 180.31 L410.23 179.66 L410.99 179.03 L411.76 178.40 L412.53 177.77 L413.30 177.16 L414.07 176.55 L414.83 175.95 L415.60 175.36 L416.37 174.78 L417.14 174.20 L417.90 173.62 L418.67 173.06 L419.44 172.50 L420.21 171.95 L420.97 171.40 L421.74 170.86 L422.51 170.33 L423.28 169.80 L424.04 169.29 L424.81 168.77 L425.58 168.27 L426.35 167.77 L427.11 167.28 L427.88 166.80 L428.65 166.32 L429.42 165.85 L430.18 165.39 L430.95 164.94 L431.72 164.49 L432.49 164.05 L433.25 163.62 L434.02 163.20 L434.79 162.78 L435.56 162.38 L436.32 161.97 L437.09 161.58 L437.86 161.19 L438.63 160.81 L439.39 160.44 L440.16 160.07 L440.93 159.71 L441.70 159.36 L442.46 159.01 L443.23 158.67 L444.00 158.34 L444.77 158.01 L445.53 157.70 L446.30 157.39 L447.07 157.08 L447.84 156.79 L448.60 156.50 L449.37 156.22 L450.14 155.95 L450.91 155.68 L451.67 155.42 L452.44 155.17 L453.21 154.93 L453.98 154.69 L454.74 154.46 L455.51 154.24 L456.28 154.03 L457.05 153.82 L457.81 153.62 L458.58 153.42 L459.35 153.24 L460.12 153.06 L460.88 152.89 L461.65 152.72 L462.42 152.56 L463.19 152.41 L463.95 152.27 L464.72 152.13 L465.49 152.00 L466.26 151.87 L467.02 151.75 L467.79 151.64 L468.56 151.54 L469.33 151.44 L470.09 151.35 L470.86 151.26 L471.63 151.19 L472.40 151.11 L473.16 151.05 L473.93 150.99 L474.70 150.94 L475.47 150.90 L476.23 150.86 L477.00 150.83 L477.77 150.80 L478.54 150.78 L479.30 150.77 L480.07 150.76 L480.84 150.76 L481.61 150.77 L482.37 150.79 L483.14 150.81 L483.91 150.83 L484.68 150.87 L485.44 150.91 L486.21 150.95 L486.98 151.01 L487.75 151.07 L488.51 151.13 L489.28 151.20 L490.05 151.28 L490.82 151.37 L491.58 151.46 L492.35 151.55 L493.12 151.66 L493.89 151.76 L494.65 151.88 L495.42 152.00 L496.19 152.13 L496.96 152.26 L497.72 152.40 L498.49 152.55 L499.26 152.70 L500.03 152.86 L500.79 153.03 L501.56 153.20 L502.33 153.37 L503.10 153.55 L503.86 153.74 L504.63 153.93 L505.40 154.13 L506.17 154.33 L506.93 154.54 L507.70 154.75 L508.47 154.96 L509.24 155.18 L510.01 155.40 L510.77 155.63 L511.54 155.86 L512.31 156.09 L513.08 156.33 L513.84 156.58 L514.61 156.83 L515.38 157.10 L516.15 157.37 L516.91 157.66 L517.68 157.96 L518.45 158.27 L519.22 158.59 L519.98 158.93 L520.75 159.29 L521.52 159.66 L522.29 160.04 L523.05 160.41 L523.82 160.79 L524.59 161.16 L525.36 161.53 L526.12 161.88 L526.89 162.22 L527.66 162.55 L528.43 162.87 L529.19 163.18 L529.96 163.48 L530.73 163.79 L531.50 164.10 L532.26 164.42 L533.03 164.76 L533.80 165.12 L534.57 165.50 L535.33 165.92 L536.10 166.36 L536.87 166.83 L537.64 167.33 L538.40 167.85 L539.17 168.39 L539.94 168.94 L540.71 169.50 L541.47 170.06 L542.24 170.61 L543.01 171.15 L543.78 171.68 L544.54 172.18 L545.31 172.67 L546.08 173.13 L546.85 173.56 L547.61 173.98 L548.38 174.39 L549.15 174.78 L549.92 175.16 L550.68 175.55 L551.45 175.95 L552.22 176.36 L552.99 176.78 L553.75 177.24 L554.52 177.72 L555.29 178.23 L556.06 178.77 L556.82 179.35 L557.59 179.95 L558.36 180.57 L559.13 181.22 L559.89 181.88 L560.66 182.55 L561.43 183.21 L562.20 183.88 L562.96 184.53 L563.73 185.17 L564.50 185.78 L565.27 186.38 L566.03 186.94 L566.80 187.49 L567.57 188.01 L568.34 188.51 L569.10 189.00 L569.87 189.47 L570.64 189.95 L571.41 190.42 L572.17 190.91 L572.94 191.41 L573.71 191.93 L574.48 192.48 L575.24 193.05 L576.01 193.65 L576.78 194.29 L577.55 194.95 L578.31 195.64 L579.08 196.35 L579.85 197.08 L580.62 197.82 L581.38 198.56 L582.15 199.30 L582.92 200.03 L583.69 200.75 L584.45 201.45 L585.22 202.12 L585.99 202.77 L586.76 203.40 L587.52 204.00 L588.29 204.58 L589.06 205.14 L589.83 205.68 L590.59 206.21 L591.36 206.75 L592.13 207.28 L592.90 207.83 L593.66 208.39 L594.43 208.98 L595.20 209.59 L595.97 210.23 L596.73 210.89 L597.50 211.59 L598.27 212.31 L599.04 213.06 L599.80 213.82 L600.57 214.60 L601.34 215.39 L602.11 216.17 L602.87 216.95 L603.64 217.72 L604.41 218.47 L605.18 219.20 L605.94 219.91 L606.71 220.59 L607.48 221.24 L608.25 221.87 L609.02 222.47 L609.78 223.06 L610.55 223.63 L611.32 224.20 L612.09 224.76 L612.85 225.33 L613.62 225.91 L614.39 226.51 L615.16 227.12 L615.92 227.77 L616.69 228.44 L617.46 229.14 L618.23 229.87 L618.99 230.62 L619.76 231.39 L620.53 232.18 L621.30 232.97 L622.06 233.78 L622.83 234.58 L623.60 235.37 L624.37 236.14 L625.13 236.90 L625.90 237.63 L626.67 238.34 L627.44 239.02 L628.20 239.67 L628.97 240.29 L629.74 240.89 L630.51 241.48 L631.27 242.05 L632.04 242.61 L632.81 243.18 L633.58 243.75 L634.34 244.33 L635.11 244.94 L635.88 245.56 L636.65 246.21 L637.41 246.88 L638.18 247.59 L638.95 248.31 L639.72 249.06 L640.48 249.83 L641.25 250.62 L642.02 251.41 L642.79 252.20 L643.55 252.98 L644.32 253.75 L645.09 254.51 L645.86 255.24 L646.62 255.95 L647.39 256.63 L648.16 257.29 L648.93 257.91 L649.69 258.51 L650.46 259.09 L651.23 259.65 L652.00 260.21 L652.76 260.75 L653.53 261.30 L654.30 261.86 L655.07 262.43 L655.83 263.02 L656.60 263.64 L657.37 264.28 L658.14 264.95 L658.90 265.64 L659.67 266.36 L660.44 267.10 L661.21 267.85 L661.97 268.62 L662.74 269.39 L663.51 270.16 L664.28 270.92 L665.04 271.67 L665.81 272.40 L666.58 273.10 L667.35 273.78 L668.11 274.43 L668.88 275.05 L669.65 275.65 L670.42 276.22 L671.18 276.78 L671.95 277.32 L672.72 277.85 L673.49 278.38 L674.25 278.92 L675.02 279.47 L675.79 280.03 L676.56 280.61 L677.32 281.22 L678.09 281.85 L678.86 282.51 L679.63 283.19 L680.39 283.89 L681.16 284.61 L681.93 285.34 L682.70 286.08 L683.46 286.82 L684.23 287.56 L685.00 288.28 L685.77 288.99 L686.53 289.68 L687.30 290.34 L688.07 290.98 L688.84 291.60 L689.60 292.19 L690.37 292.76 L691.14 293.31 L691.91 293.86 L692.67 294.39 L693.44 294.92 L694.21 295.46 L694.98 296.00 L695.74 296.56 L696.51 297.13 L697.28 297.72 L698.05 298.32 L698.81 298.94 L699.58 299.58 L700.35 300.24 L701.12 300.90 L701.88 301.58 L702.65 302.26 L703.42 302.93 L704.19 303.61 L704.95 304.27 L705.72 304.93 L706.49 305.57 L707.26 306.20 L708.03 306.82 L708.79 307.42 L709.56 308.01 L710.33 308.59 L711.10 309.15 L711.86 309.71 L712.63 310.27 L713.40 310.82 L714.17 311.37 L714.93 311.92 L715.70 312.48 L716.47 313.05 L717.24 313.62 L718.00 314.20 L718.77 314.79 L719.54 315.38 L720.31 315.99 L721.07 316.60 L721.84 317.21 L722.61 317.83 L723.38 318.45 L724.14 319.07 L724.91 319.68 L725.68 320.30 L726.45 320.91 L727.21 321.51 L727.98 322.10 L728.75 322.68 L729.52 323.26 L730.28 323.82 L731.05 324.38 L731.82 324.93 L732.59 325.48 L733.35 326.02 L734.12 326.56 L734.89 327.10 L735.66 327.64 L736.42 328.18 L737.19 328.73 L737.96 329.28 L738.73 329.83 L739.49 330.40 L740.26 330.96 L741.03 331.54 L741.80 332.12 L742.56 332.71 L743.33 333.30 L744.10 333.89 L744.87 334.48 L745.63 335.07 L746.40 335.66 L747.17 336.24 L747.94 336.82 L748.70 337.39 L749.47 337.95 L750.24 338.51 L751.01 339.06 L751.77 339.61 L752.54 340.15 L753.31 340.68 L754.08 341.21 L754.84 341.75 L755.61 342.28 L756.38 342.81 L757.15 343.35 L757.91 343.90 L758.68 344.45 L759.45 345.00 L760.22 345.57 L760.98 346.14 L761.75 346.72 L762.52 347.30 L763.29 347.90 L764.05 348.49 L764.82 349.09 L765.59 349.69 L766.36 350.29 L767.12 350.88 L767.89 351.48 L768.66 352.07 L769.43 352.65 L770.19 353.23 L770.96 353.80 L771.73 354.37 L772.50 354.93 L773.26 355.49 L774.03 356.05 L774.80 356.60 L775.57 357.16 L776.33 357.72 L777.10 358.28 L777.87 358.85 L778.64 359.42 L779.40 360.01 L780.17 360.60 L780.94 361.20 L781.71 361.81 L782.47 362.42 L783.24 363.05 L784.01 363.68 L784.78 364.32 L785.54 364.95 L786.31 365.60 L787.08 366.24 L787.85 366.88 L788.61 367.51 L789.38 368.15 L790.15 368.78 L790.92 369.40 L791.68 370.02 L792.45 370.64 L793.22 371.25 L793.99 371.86 L794.75 372.47 L795.52 373.09 L796.29 373.70 L797.06 374.32 L797.82 374.95 L798.59 375.58 L799.36 376.22 L800.13 376.87 L800.89 377.53 L801.66 378.20 L802.43 378.88 L803.20 379.56 L803.96 380.26 L804.73 380.96 L805.50 381.67" stroke="#ff0000" stroke-width="2.3" stroke-dasharray="9.5 4.95 2.2 4.95"/>
<path d="M115.50 378.42 L116.27 378.36 L117.04 378.30 L117.80 378.24 L118.57 378.19 L119.34 378.14 L120.11 378.09 L120.87 378.04 L121.64 377.99 L122.41 377.95 L123.18 377.90 L123.94 377.86 L124.71 377.82 L125.48 377.78 L126.25 377.75 L127.01 377.71 L127.78 377.68 L128.55 377.64 L129.32 377.61 L130.08 377.58 L130.85 377.55 L131.62 377.52 L132.39 377.49 L133.15 377.47 L133.92 377.44 L134.69 377.42 L135.46 377.40 L136.22 377.37 L136.99 377.35 L137.76 377.33 L138.53 377.31 L139.29 377.29 L140.06 377.28 L140.83 377.26 L141.60 377.24 L142.36 377.23 L143.13 377.21 L143.90 377.20 L144.67 377.18 L145.43 377.17 L146.20 377.16 L146.97 377.14 L147.74 377.13 L148.50 377.12 L149.27 377.11 L150.04 377.10 L150.81 377.09 L151.57 377.07 L152.34 377.06 L153.11 377.05 L153.88 377.04 L154.64 377.03 L155.41 377.02 L156.18 377.01 L156.95 377.00 L157.71 376.99 L158.48 376.98 L159.25 376.97 L160.02 376.96 L160.78 376.95 L161.55 376.94 L162.32 376.93 L163.09 376.92 L163.85 376.90 L164.62 376.89 L165.39 376.88 L166.16 376.86 L166.92 376.85 L167.69 376.83 L168.46 376.82 L169.23 376.80 L169.99 376.79 L170.76 376.77 L171.53 376.75 L172.30 376.73 L173.06 376.71 L173.83 376.69 L174.60 376.67 L175.37 376.65 L176.13 376.63 L176.90 376.60 L177.67 376.58 L178.44 376.55 L179.20 376.52 L179.97 376.50 L180.74 376.47 L181.51 376.43 L182.27 376.40 L183.04 376.37 L183.81 376.33 L184.58 376.30 L185.34 376.26 L186.11 376.22 L186.88 376.18 L187.65 376.14 L188.41 376.10 L189.18 376.05 L189.95 376.00 L190.72 375.95 L191.48 375.90 L192.25 375.85 L193.02 375.80 L193.79 375.74 L194.55 375.69 L195.32 375.63 L196.09 375.57 L196.86 375.50 L197.62 375.44 L198.39 375.37 L199.16 375.30 L199.93 375.23 L200.69 375.16 L201.46 375.08 L202.23 375.00 L203.00 374.92 L203.76 374.84 L204.53 374.76 L205.30 374.67 L206.07 374.58 L206.83 374.49 L207.60 374.39 L208.37 374.30 L209.14 374.20 L209.90 374.09 L210.67 373.99 L211.44 373.88 L212.21 373.77 L212.97 373.66 L213.74 373.54 L214.51 373.43 L215.28 373.30 L216.05 373.18 L216.81 373.05 L217.58 372.92 L218.35 372.79 L219.12 372.65 L219.88 372.51 L220.65 372.37 L221.42 372.22 L222.19 372.07 L222.95 371.91 L223.72 371.76 L224.49 371.59 L225.26 371.43 L226.02 371.26 L226.79 371.09 L227.56 370.91 L228.33 370.73 L229.09 370.54 L229.86 370.35 L230.63 370.16 L231.40 369.96 L232.16 369.76 L232.93 369.56 L233.70 369.35 L234.47 369.13 L235.23 368.91 L236.00 368.69 L236.77 368.46 L237.54 368.22 L238.30 367.99 L239.07 367.74 L239.84 367.49 L240.61 367.24 L241.37 366.98 L242.14 366.72 L242.91 366.45 L243.68 366.18 L244.44 365.90 L245.21 365.61 L245.98 365.33 L246.75 365.03 L247.51 364.73 L248.28 364.42 L249.05 364.11 L249.82 363.79 L250.58 363.47 L251.35 363.14 L252.12 362.81 L252.89 362.46 L253.65 362.12 L254.42 361.76 L255.19 361.40 L255.96 361.04 L256.72 360.67 L257.49 360.29 L258.26 359.90 L259.03 359.51 L259.79 359.12 L260.56 358.71 L261.33 358.30 L262.10 357.88 L262.86 357.46 L263.63 357.03 L264.40 356.59 L265.17 356.14 L265.93 355.69 L266.70 355.23 L267.47 354.77 L268.24 354.29 L269.00 353.81 L269.77 353.33 L270.54 352.83 L271.31 352.33 L272.07 351.82 L272.84 351.30 L273.61 350.77 L274.38 350.24 L275.14 349.70 L275.91 349.15 L276.68 348.60 L277.45 348.03 L278.21 347.46 L278.98 346.88 L279.75 346.29 L280.52 345.69 L281.28 345.09 L282.05 344.47 L282.82 343.85 L283.59 343.22 L284.35 342.58 L285.12 341.94 L285.89 341.28 L286.66 340.62 L287.42 339.94 L288.19 339.26 L288.96 338.57 L289.73 337.87 L290.49 337.16 L291.26 336.44 L292.03 335.72 L292.80 334.98 L293.56 334.23 L294.33 333.48 L295.10 332.72 L295.87 331.94 L296.63 331.16 L297.40 330.37 L298.17 329.56 L298.94 328.75 L299.70 327.93 L300.47 327.10 L301.24 326.26 L302.01 325.41 L302.77 324.55 L303.54 323.68 L304.31 322.80 L305.08 321.90 L305.84 321.00 L306.61 320.09 L307.38 319.17 L308.15 318.24 L308.91 317.29 L309.68 316.34 L310.45 315.38 L311.22 314.41 L311.98 313.43 L312.75 312.44 L313.52 311.44 L314.29 310.43 L315.06 309.41 L315.82 308.39 L316.59 307.36 L317.36 306.32 L318.13 305.27 L318.89 304.22 L319.66 303.16 L320.43 302.09 L321.20 301.02 L321.96 299.94 L322.73 298.85 L323.50 297.76 L324.27 296.66 L325.03 295.56 L325.80 294.45 L326.57 293.34 L327.34 292.22 L328.10 291.10 L328.87 289.97 L329.64 288.84 L330.41 287.71 L331.17 286.57 L331.94 285.44 L332.71 284.29 L333.48 283.15 L334.24 282.00 L335.01 280.85 L335.78 279.70 L336.55 278.55 L337.31 277.39 L338.08 276.23 L338.85 275.08 L339.62 273.92 L340.38 272.76 L341.15 271.60 L341.92 270.44 L342.69 269.28 L343.45 268.13 L344.22 266.97 L344.99 265.81 L345.76 264.66 L346.52 263.50 L347.29 262.35 L348.06 261.20 L348.83 260.05 L349.59 258.90 L350.36 257.75 L351.13 256.61 L351.90 255.47 L352.66 254.33 L353.43 253.20 L354.20 252.06 L354.97 250.93 L355.73 249.80 L356.50 248.68 L357.27 247.56 L358.04 246.44 L358.80 245.32 L359.57 244.21 L360.34 243.10 L361.11 242.00 L361.87 240.91 L362.64 239.83 L363.41 238.76 L364.18 237.70 L364.94 236.65 L365.71 235.60 L366.48 234.56 L367.25 233.53 L368.01 232.50 L368.78 231.48 L369.55 230.48 L370.32 229.50 L371.08 228.53 L371.85 227.58 L372.62 226.64 L373.39 225.71 L374.15 224.79 L374.92 223.87 L375.69 222.96 L376.46 222.05 L377.22 221.15 L377.99 220.24 L378.76 219.33 L379.53 218.42 L380.29 217.50 L381.06 216.59 L381.83 215.69 L382.60 214.79 L383.36 213.90 L384.13 213.01 L384.90 212.13 L385.67 211.24 L386.43 210.36 L387.20 209.48 L387.97 208.59 L388.74 207.70 L389.50 206.81 L390.27 205.92 L391.04 205.03 L391.81 204.14 L392.57 203.27 L393.34 202.39 L394.11 201.53 L394.88 200.67 L395.64 199.82 L396.41 198.98 L397.18 198.14 L397.95 197.31 L398.71 196.49 L399.48 195.67 L400.25 194.87 L401.02 194.07 L401.78 193.27 L402.55 192.49 L403.32 191.71 L404.09 190.94 L404.85 190.18 L405.62 189.43 L406.39 188.68 L407.16 187.95 L407.92 187.22 L408.69 186.50 L409.46 185.79 L410.23 185.08 L410.99 184.39 L411.76 183.69 L412.53 183.00 L413.30 182.31 L414.07 181.63 L414.83 180.96 L415.60 180.29 L416.37 179.63 L417.14 178.97 L417.90 178.33 L418.67 177.69 L419.44 177.06 L420.21 176.44 L420.97 175.82 L421.74 175.22 L422.51 174.63 L423.28 174.05 L424.04 173.48 L424.81 172.93 L425.58 172.38 L426.35 171.85 L427.11 171.32 L427.88 170.80 L428.65 170.30 L429.42 169.80 L430.18 169.31 L430.95 168.83 L431.72 168.36 L432.49 167.90 L433.25 167.44 L434.02 167.00 L434.79 166.56 L435.56 166.13 L436.32 165.70 L437.09 165.28 L437.86 164.87 L438.63 164.47 L439.39 164.07 L440.16 163.68 L440.93 163.30 L441.70 162.92 L442.46 162.54 L443.23 162.17 L444.00 161.80 L444.77 161.44 L445.53 161.09 L446.30 160.74 L447.07 160.39 L447.84 160.06 L448.60 159.73 L449.37 159.41 L450.14 159.09 L450.91 158.79 L451.67 158.49 L452.44 158.20 L453.21 157.92 L453.98 157.65 L454.74 157.39 L455.51 157.14 L456.28 156.89 L457.05 156.65 L457.81 156.42 L458.58 156.20 L459.35 155.98 L460.12 155.77 L460.88 155.56 L461.65 155.37 L462.42 155.18 L463.19 155.00 L463.95 154.83 L464.72 154.66 L465.49 154.51 L466.26 154.37 L467.02 154.23 L467.79 154.11 L468.56 153.99 L469.33 153.89 L470.09 153.79 L470.86 153.71 L471.63 153.63 L472.40 153.57 L473.16 153.50 L473.93 153.45 L474.70 153.41 L475.47 153.37 L476.23 153.34 L477.00 153.31 L477.77 153.30 L478.54 153.29 L479.30 153.28 L480.07 153.29 L480.84 153.30 L481.61 153.31 L482.37 153.34 L483.14 153.36 L483.91 153.40 L484.68 153.44 L485.44 153.48 L486.21 153.53 L486.98 153.59 L487.75 153.65 L488.51 153.72 L489.28 153.79 L490.05 153.87 L490.82 153.96 L491.58 154.05 L492.35 154.15 L493.12 154.25 L493.89 154.36 L494.65 154.48 L495.42 154.60 L496.19 154.72 L496.96 154.86 L497.72 154.99 L498.49 155.14 L499.26 155.29 L500.03 155.45 L500.79 155.63 L501.56 155.82 L502.33 156.01 L503.10 156.21 L503.86 156.41 L504.63 156.62 L505.40 156.84 L506.17 157.06 L506.93 157.28 L507.70 157.51 L508.47 157.74 L509.24 157.97 L510.01 158.21 L510.77 158.45 L511.54 158.70 L512.31 158.95 L513.08 159.20 L513.84 159.47 L514.61 159.74 L515.38 160.02 L516.15 160.31 L516.91 160.61 L517.68 160.92 L518.45 161.25 L519.22 161.59 L519.98 161.94 L520.75 162.30 L521.52 162.67 L522.29 163.04 L523.05 163.41 L523.82 163.79 L524.59 164.16 L525.36 164.52 L526.12 164.87 L526.89 165.21 L527.66 165.53 L528.43 165.85 L529.19 166.15 L529.96 166.45 L530.73 166.75 L531.50 167.06 L532.26 167.37 L533.03 167.71 L533.80 168.06 L534.57 168.44 L535.33 168.85 L536.10 169.29 L536.87 169.75 L537.64 170.24 L538.40 170.76 L539.17 171.29 L539.94 171.84 L540.71 172.39 L541.47 172.95 L542.24 173.49 L543.01 174.03 L543.78 174.55 L544.54 175.05 L545.31 175.53 L546.08 175.98 L546.85 176.42 L547.61 176.83 L548.38 177.23 L549.15 177.62 L549.92 178.00 L550.68 178.39 L551.45 178.78 L552.22 179.18 L552.99 179.61 L553.75 180.06 L554.52 180.54 L555.29 181.05 L556.06 181.59 L556.82 182.16 L557.59 182.77 L558.36 183.39 L559.13 184.04 L559.89 184.70 L560.66 185.37 L561.43 186.04 L562.20 186.70 L562.96 187.36 L563.73 188.00 L564.50 188.62 L565.27 189.22 L566.03 189.79 L566.80 190.34 L567.57 190.87 L568.34 191.37 L569.10 191.87 L569.87 192.35 L570.64 192.84 L571.41 193.32 L572.17 193.82 L572.94 194.33 L573.71 194.86 L574.48 195.42 L575.24 196.01 L576.01 196.63 L576.78 197.28 L577.55 197.96 L578.31 198.66 L579.08 199.39 L579.85 200.14 L580.62 200.89 L581.38 201.66 L582.15 202.42 L582.92 203.17 L583.69 203.91 L584.45 204.63 L585.22 205.34 L585.99 206.01 L586.76 206.66 L587.52 207.29 L588.29 207.90 L589.06 208.49 L589.83 209.06 L590.59 209.63 L591.36 210.19 L592.13 210.76 L592.90 211.34 L593.66 211.94 L594.43 212.56 L595.20 213.20 L595.97 213.88 L596.73 214.58 L597.50 215.32 L598.27 216.08 L599.04 216.86 L599.80 217.67 L600.57 218.49 L601.34 219.32 L602.11 220.15 L602.87 220.97 L603.64 221.78 L604.41 222.58 L605.18 223.35 L605.94 224.11 L606.71 224.83 L607.48 225.53 L608.25 226.21 L609.02 226.86 L609.78 227.49 L610.55 228.12 L611.32 228.73 L612.09 229.34 L612.85 229.96 L613.62 230.60 L614.39 231.24 L615.16 231.92 L615.92 232.61 L616.69 233.34 L617.46 234.09 L618.23 234.87 L618.99 235.68 L619.76 236.50 L620.53 237.35 L621.30 238.20 L622.06 239.06 L622.83 239.92 L623.60 240.77 L624.37 241.60 L625.13 242.41 L625.90 243.20 L626.67 243.97 L627.44 244.71 L628.20 245.41 L628.97 246.10 L629.74 246.76 L630.51 247.40 L631.27 248.04 L632.04 248.66 L632.81 249.29 L633.58 249.92 L634.34 250.57 L635.11 251.23 L635.88 251.91 L636.65 252.62 L637.41 253.36 L638.18 254.12 L638.95 254.91 L639.72 255.73 L640.48 256.56 L641.25 257.40 L642.02 258.25 L642.79 259.10 L643.55 259.95 L644.32 260.78 L645.09 261.60 L645.86 262.39 L646.62 263.16 L647.39 263.89 L648.16 264.60 L648.93 265.29 L649.69 265.94 L650.46 266.58 L651.23 267.19 L652.00 267.80 L652.76 268.40 L653.53 269.00 L654.30 269.61 L655.07 270.23 L655.83 270.87 L656.60 271.53 L657.37 272.22 L658.14 272.93 L658.90 273.66 L659.67 274.42 L660.44 275.20 L661.21 276.00 L661.97 276.80 L662.74 277.61 L663.51 278.41 L664.28 279.21 L665.04 279.99 L665.81 280.75 L666.58 281.48 L667.35 282.19 L668.11 282.87 L668.88 283.52 L669.65 284.14 L670.42 284.74 L671.18 285.32 L671.95 285.88 L672.72 286.44 L673.49 286.99 L674.25 287.55 L675.02 288.11 L675.79 288.69 L676.56 289.29 L677.32 289.91 L678.09 290.56 L678.86 291.23 L679.63 291.93 L680.39 292.64 L681.16 293.37 L681.93 294.12 L682.70 294.86 L683.46 295.61 L684.23 296.36 L685.00 297.09 L685.77 297.80 L686.53 298.49 L687.30 299.16 L688.07 299.81 L688.84 300.43 L689.60 301.02 L690.37 301.60 L691.14 302.15 L691.91 302.70 L692.67 303.23 L693.44 303.76 L694.21 304.30 L694.98 304.84 L695.74 305.40 L696.51 305.97 L697.28 306.55 L698.05 307.15 L698.81 307.77 L699.58 308.41 L700.35 309.06 L701.12 309.72 L701.88 310.39 L702.65 311.06 L703.42 311.74 L704.19 312.40 L704.95 313.06 L705.72 313.71 L706.49 314.35 L707.26 314.97 L708.03 315.58 L708.79 316.18 L709.56 316.76 L710.33 317.33 L711.10 317.89 L711.86 318.44 L712.63 318.99 L713.40 319.53 L714.17 320.07 L714.93 320.62 L715.70 321.17 L716.47 321.73 L717.24 322.29 L718.00 322.86 L718.77 323.44 L719.54 324.03 L720.31 324.63 L721.07 325.23 L721.84 325.83 L722.61 326.44 L723.38 327.06 L724.14 327.67 L724.91 328.28 L725.68 328.88 L726.45 329.49 L727.21 330.08 L727.98 330.67 L728.75 331.24 L729.52 331.81 L730.28 332.37 L731.05 332.93 L731.82 333.47 L732.59 334.02 L733.35 334.55 L734.12 335.09 L734.89 335.62 L735.66 336.16 L736.42 336.70 L737.19 337.24 L737.96 337.79 L738.73 338.34 L739.49 338.90 L740.26 339.47 L741.03 340.04 L741.80 340.62 L742.56 341.20 L743.33 341.79 L744.10 342.38 L744.87 342.97 L745.63 343.55 L746.40 344.14 L747.17 344.72 L747.94 345.29 L748.70 345.86 L749.47 346.42 L750.24 346.97 L751.01 347.51 L751.77 348.05 L752.54 348.59 L753.31 349.11 L754.08 349.64 L754.84 350.16 L755.61 350.69 L756.38 351.21 L757.15 351.74 L757.91 352.27 L758.68 352.81 L759.45 353.36 L760.22 353.91 L760.98 354.47 L761.75 355.03 L762.52 355.60 L763.29 356.18 L764.05 356.76 L764.82 357.34 L765.59 357.92 L766.36 358.49 L767.12 359.07 L767.89 359.64 L768.66 360.20 L769.43 360.76 L770.19 361.32 L770.96 361.86 L771.73 362.40 L772.50 362.93 L773.26 363.46 L774.03 363.98 L774.80 364.50 L775.57 365.03 L776.33 365.55 L777.10 366.07 L777.87 366.60 L778.64 367.13 L779.40 367.67 L780.17 368.22 L780.94 368.78 L781.71 369.34 L782.47 369.90 L783.24 370.48 L784.01 371.05 L784.78 371.64 L785.54 372.22 L786.31 372.80 L787.08 373.38 L787.85 373.96 L788.61 374.53 L789.38 375.10 L790.15 375.66 L790.92 376.21 L791.68 376.76 L792.45 377.30 L793.22 377.84 L793.99 378.37 L794.75 378.90 L795.52 379.43 L796.29 379.96 L797.06 380.49 L797.82 381.02 L798.59 381.56 L799.36 382.11 L800.13 382.66 L800.89 383.22 L801.66 383.78 L802.43 384.36 L803.20 384.94 L803.96 385.53 L804.73 386.12 L805.50 386.71" stroke="#ff0000" stroke-width="2.3"/>
<path d="M278.10 424.84 L278.69 423.61 L279.27 422.37 L279.86 421.14 L280.44 419.91 L281.03 418.67 L281.62 417.44 L282.20 416.20 L282.79 414.96 L283.37 413.72 L283.96 412.48 L284.55 411.24 L285.13 410.00 L285.72 408.76 L286.31 407.51 L286.89 406.27 L287.48 405.02 L288.06 403.78 L288.65 402.53 L289.24 401.29 L289.82 400.04 L290.41 398.79 L290.99 397.55 L291.58 396.30 L292.17 395.05 L292.75 393.80 L293.34 392.56 L293.92 391.31 L294.51 390.06 L295.10 388.81 L295.68 387.56 L296.27 386.32 L296.86 385.07 L297.44 383.82 L298.03 382.57 L298.61 381.33 L299.20 380.08 L299.79 378.84 L300.37 377.59 L300.96 376.34 L301.54 375.10 L302.13 373.86 L302.72 372.61 L303.30 371.37 L303.89 370.13 L304.47 368.89 L305.06 367.65 L305.65 366.41 L306.23 365.17 L306.82 363.93 L307.40 362.70 L307.99 361.46 L308.58 360.23 L309.16 358.99 L309.75 357.76 L310.34 356.53 L310.92 355.30 L311.51 354.08 L312.09 352.85 L312.68 351.63 L313.27 350.40 L313.85 349.18 L314.44 347.96 L315.02 346.74 L315.61 345.53 L316.20 344.31 L316.78 343.10 L317.37 341.89 L317.95 340.68 L318.54 339.47 L319.13 338.27 L319.71 337.06 L320.30 335.86 L320.88 334.66 L321.47 333.47 L322.06 332.27 L322.64 331.08 L323.23 329.89 L323.82 328.70 L324.40 327.52 L324.99 326.34 L325.57 325.16 L326.16 323.98 L326.75 322.81 L327.33 321.63 L327.92 320.47 L328.50 319.30 L329.09 318.14 L329.68 316.98 L330.26 315.82 L330.85 314.66 L331.43 313.51 L332.02 312.36 L332.61 311.22 L333.19 310.08 L333.78 308.94 L334.37 307.80 L334.95 306.67 L335.54 305.54 L336.12 304.41 L336.71 303.29 L337.30 302.17 L337.88 301.06 L338.47 299.95 L339.05 298.84 L339.64 297.74 L340.23 296.64 L340.81 295.54 L341.40 294.45 L341.98 293.36 L342.57 292.27 L343.16 291.19 L343.74 290.11 L344.33 289.04 L344.91 287.97 L345.50 286.90 L346.09 285.84 L346.67 284.78 L347.26 283.73 L347.85 282.68 L348.43 281.63 L349.02 280.59 L349.60 279.55 L350.19 278.51 L350.78 277.48 L351.36 276.45 L351.95 275.43 L352.53 274.41 L353.12 273.40 L353.71 272.39 L354.29 271.38 L354.88 270.38 L355.46 269.38 L356.05 268.38 L356.64 267.39 L357.22 266.41 L357.81 265.43 L358.40 264.45 L358.98 263.48 L359.57 262.51 L360.15 261.54 L360.74 260.58 L361.33 259.63 L361.91 258.67 L362.50 257.73 L363.08 256.78 L363.67 255.84 L364.26 254.91 L364.84 253.98 L365.43 253.06 L366.01 252.13 L366.60 251.22 L367.19 250.31 L367.77 249.40 L368.36 248.49 L368.94 247.60 L369.53 246.70 L370.12 245.81 L370.70 244.93 L371.29 244.05 L371.88 243.17 L372.46 242.30 L373.05 241.43 L373.63 240.57 L374.22 239.71 L374.81 238.86 L375.39 238.10 L375.98 237.39 L376.56 236.68 L377.15 235.98 L377.74 235.28 L378.32 234.58 L378.91 233.88 L379.49 233.19 L380.08 232.50 L380.67 231.81 L381.25 231.12 L381.84 230.44 L382.43 229.76 L383.01 229.07 L383.60 228.39 L384.18 227.71 L384.77 227.03 L385.36 226.35 L385.94 225.66 L386.53 224.98 L387.11 224.30 L387.70 223.61 L388.29 222.93 L388.87 222.24 L389.46 221.55 L390.04 220.85 L390.63 220.16 L391.22 219.46 L391.80 218.75 L392.39 218.05 L392.97 217.35 L393.56 216.65 L394.15 215.96 L394.73 215.27 L395.32 214.59 L395.91 213.91 L396.49 213.23 L397.08 212.56 L397.66 211.89 L398.25 211.23 L398.84 210.57 L399.42 209.92 L400.01 209.27 L400.59 208.62 L401.18 207.98 L401.77 207.35 L402.35 206.72 L402.94 206.09 L403.52 205.47 L404.11 204.86 L404.70 204.25 L405.28 203.64 L405.87 203.04 L406.45 202.45 L407.04 201.86 L407.63 201.27 L408.21 200.69 L408.80 200.12 L409.39 199.55 L409.97 198.99 L410.56 198.43 L411.14 197.88 L411.73 197.33 L412.32 196.79 L412.90 196.25 L413.49 195.72 L414.07 195.19 L414.66 194.67 L415.25 194.15 L415.83 193.63 L416.42 193.13 L417.00 192.62 L417.59 192.12 L418.18 191.63 L418.76 191.14 L419.35 190.66 L419.94 190.18 L420.52 189.70 L421.11 189.23 L421.69 188.76 L422.28 188.30 L422.87 187.84 L423.45 187.39 L424.04 186.94 L424.62 186.50 L425.21 186.06 L425.80 185.63 L426.38 185.20 L426.97 184.77 L427.55 184.35 L428.14 183.93 L428.73 183.52 L429.31 183.11 L429.90 182.70 L430.48 182.30 L431.07 181.90 L431.66 181.50 L432.24 181.10 L432.83 180.71 L433.42 180.32 L434.00 179.92 L434.59 179.54 L435.17 179.15 L435.76 178.77 L436.35 178.39 L436.93 178.01 L437.52 177.64 L438.10 177.27 L438.69 176.90 L439.28 176.54 L439.86 176.19 L440.45 175.84 L441.03 175.49 L441.62 175.15 L442.21 174.81 L442.79 174.48 L443.38 174.16 L443.97 173.84 L444.55 173.53 L445.14 173.23 L445.72 172.93 L446.31 172.64 L446.90 172.35 L447.48 172.07 L448.07 171.79 L448.65 171.52 L449.24 171.26 L449.83 170.99 L450.41 170.74 L451.00 170.49 L451.58 170.24 L452.17 170.00 L452.76 169.76 L453.34 169.52 L453.93 169.29 L454.51 169.07 L455.10 168.85 L455.69 168.63 L456.27 168.42 L456.86 168.21 L457.45 168.01 L458.03 167.81 L458.62 167.62 L459.20 167.42 L459.79 167.24 L460.38 167.05 L460.96 166.88 L461.55 166.70 L462.13 166.53 L462.72 166.36 L463.31 166.20 L463.89 166.04 L464.48 165.89 L465.06 165.74 L465.65 165.59 L466.24 165.45 L466.82 165.32 L467.41 165.18 L467.99 165.05 L468.58 164.93 L469.17 164.81 L469.75 164.69 L470.34 164.58 L470.93 164.48 L471.51 164.37 L472.10 164.27 L472.68 164.18 L473.27 164.09 L473.86 164.00 L474.44 163.92 L475.03 163.85 L475.61 163.77 L476.20 163.71 L476.79 163.64 L477.37 163.58 L477.96 163.53 L478.54 163.48 L479.13 163.43 L479.72 163.39 L480.30 163.35 L480.89 163.32 L481.48 163.29 L482.06 163.26 L482.65 163.24 L483.23 163.22 L483.82 163.21 L484.41 163.20 L484.99 163.19 L485.58 163.19 L486.16 163.19 L486.75 163.20 L487.34 163.21 L487.92 163.22 L488.51 163.23 L489.09 163.25 L489.68 163.28 L490.27 163.30 L490.85 163.33 L491.44 163.37 L492.02 163.41 L492.61 163.45 L493.20 163.49 L493.78 163.54 L494.37 163.59 L494.96 163.65 L495.54 163.71 L496.13 163.77 L496.71 163.84 L497.30 163.91 L497.89 163.99 L498.47 164.07 L499.06 164.15 L499.64 164.24 L500.23 164.33 L500.82 164.42 L501.40 164.52 L501.99 164.62 L502.57 164.73 L503.16 164.84 L503.75 164.95 L504.33 165.07 L504.92 165.19 L505.51 165.31 L506.09 165.43 L506.68 165.56 L507.26 165.69 L507.85 165.83 L508.44 165.96 L509.02 166.10 L509.61 166.24 L510.19 166.38 L510.78 166.53 L511.37 166.68 L511.95 166.83 L512.54 166.98 L513.12 167.14 L513.71 167.30 L514.30 167.47 L514.88 167.64 L515.47 167.82 L516.05 168.00 L516.64 168.19 L517.23 168.39 L517.81 168.60 L518.40 168.81 L518.99 169.03 L519.57 169.26 L520.16 169.50 L520.74 169.76 L521.33 170.03 L521.92 170.30 L522.50 170.57 L523.09 170.84 L523.67 171.11 L524.26 171.38 L524.85 171.65 L525.43 171.91 L526.02 172.17 L526.60 172.42 L527.19 172.66 L527.78 172.89 L528.36 173.13 L528.95 173.35 L529.54 173.57 L530.12 173.80 L530.71 174.02 L531.29 174.24 L531.88 174.48 L532.47 174.72 L533.05 174.97 L533.64 175.23 L534.22 175.51 L534.81 175.81 L535.40 176.12 L535.98 176.46 L536.57 176.80 L537.15 177.17 L537.74 177.55 L538.33 177.94 L538.91 178.35 L539.50 178.77 L540.08 179.19 L540.67 179.62 L541.26 180.04 L541.84 180.47 L542.43 180.89 L543.02 181.30 L543.60 181.71 L544.19 182.10 L544.77 182.49 L545.36 182.86 L545.95 183.22 L546.53 183.56 L547.12 183.90 L547.70 184.22 L548.29 184.54 L548.88 184.85 L549.46 185.15 L550.05 185.46 L550.63 185.77 L551.22 186.08 L551.81 186.40 L552.39 186.73 L552.98 187.08 L553.56 187.44 L554.15 187.82 L554.74 188.21 L555.32 188.62 L555.91 189.06 L556.50 189.51 L557.08 189.98 L557.67 190.46 L558.25 190.96 L558.84 191.48 L559.43 192.00 L560.01 192.54 L560.60 193.07 L561.18 193.61 L561.77 194.15 L562.36 194.69 L562.94 195.22 L563.53 195.74 L564.11 196.25 L564.70 196.75 L565.29 197.23 L565.87 197.70 L566.46 198.16 L567.05 198.61 L567.63 199.05 L568.22 199.47 L568.80 199.89 L569.39 200.30 L569.98 200.71 L570.56 201.11 L571.15 201.52 L571.73 201.94 L572.32 202.36 L572.91 202.79 L573.49 203.24 L574.08 203.70 L574.66 204.18 L575.25 204.68 L575.84 205.19 L576.42 205.72 L577.01 206.27 L577.59 206.84 L578.18 207.43 L578.77 208.02 L579.35 208.63 L579.94 209.25 L580.53 209.88 L581.11 210.51 L581.70 211.14 L582.28 211.77 L582.87 212.40 L583.46 213.02 L584.04 213.62 L584.63 214.22 L585.21 214.80 L585.80 215.37 L586.39 215.93 L586.97 216.47 L587.56 217.00 L588.14 217.52 L588.73 218.02 L589.32 218.52 L589.90 219.01 L590.49 219.49 L591.08 219.97 L591.66 220.46 L592.25 220.95 L592.83 221.45 L593.42 221.95 L594.01 222.47 L594.59 223.01 L595.18 223.56 L595.76 224.12 L596.35 224.71 L596.94 225.31 L597.52 225.93 L598.11 226.56 L598.69 227.21 L599.28 227.87 L599.87 228.54 L600.45 229.22 L601.04 229.91 L601.62 230.60 L602.21 231.29 L602.80 231.97 L603.38 232.65 L603.97 233.32 L604.56 233.98 L605.14 234.63 L605.73 235.26 L606.31 235.88 L606.90 236.48 L607.49 237.07 L608.07 237.64 L608.66 238.20 L609.24 238.75 L609.83 239.29 L610.42 239.82 L611.00 240.35 L611.59 240.87 L612.17 241.40 L612.76 241.92 L613.35 242.46 L613.93 243.00 L614.52 243.56 L615.11 244.13 L615.69 244.71 L616.28 245.31 L616.86 245.93 L617.45 246.56 L618.04 247.21 L618.62 247.87 L619.21 248.55 L619.79 249.24 L620.38 249.94 L620.97 250.64 L621.55 251.35 L622.14 252.06 L622.72 252.77 L623.31 253.48 L623.90 254.17 L624.48 254.86 L625.07 255.53 L625.65 256.20 L626.24 256.84 L626.83 257.47 L627.41 258.08 L628.00 258.68 L628.59 259.26 L629.17 259.83 L629.76 260.39 L630.34 260.93 L630.93 261.47 L631.52 262.00 L632.10 262.53 L632.69 263.05 L633.27 263.59 L633.86 264.12 L634.45 264.67 L635.03 265.22 L635.62 265.79 L636.20 266.37 L636.79 266.97 L637.38 267.58 L637.96 268.21 L638.55 268.86 L639.13 269.51 L639.72 270.18 L640.31 270.87 L640.89 271.55 L641.48 272.25 L642.07 272.95 L642.65 273.65 L643.24 274.34 L643.82 275.03 L644.41 275.72 L645.00 276.39 L645.58 277.05 L646.17 277.69 L646.75 278.32 L647.34 278.93 L647.93 279.53 L648.51 280.11 L649.10 280.67 L649.68 281.22 L650.27 281.76 L650.86 282.29 L651.44 282.81 L652.03 283.32 L652.62 283.83 L653.20 284.34 L653.79 284.86 L654.37 285.38 L654.96 285.91 L655.55 286.45 L656.13 287.00 L656.72 287.57 L657.30 288.16 L657.89 288.75 L658.48 289.37 L659.06 290.00 L659.65 290.64 L660.23 291.30 L660.82 291.96 L661.41 292.64 L661.99 293.32 L662.58 294.00 L663.16 294.68 L663.75 295.36 L664.34 296.03 L664.92 296.70 L665.51 297.35 L666.10 298.00 L666.68 298.62 L667.27 299.24 L667.85 299.83 L668.44 300.41 L669.03 300.97 L669.61 301.52 L670.20 302.06 L670.78 302.58 L671.37 303.10 L671.96 303.60 L672.54 304.11 L673.13 304.61 L673.71 305.11 L674.30 305.62 L674.89 306.13 L675.47 306.65 L676.06 307.18 L676.65 307.73 L677.23 308.29 L677.82 308.86 L678.40 309.45 L678.99 310.06 L679.58 310.68 L680.16 311.31 L680.75 311.95 L681.33 312.60 L681.92 313.26 L682.51 313.92 L683.09 314.59 L683.68 315.25 L684.26 315.91 L684.85 316.56 L685.44 317.21 L686.02 317.84 L686.61 318.46 L687.19 319.07 L687.78 319.66 L688.37 320.24 L688.95 320.81 L689.54 321.36 L690.13 321.90 L690.71 322.43 L691.30 322.96 L691.88 323.47 L692.47 323.98 L693.06 324.49 L693.64 325.00 L694.23 325.52 L694.81 326.04 L695.40 326.56 L695.99 327.09 L696.57 327.64 L697.16 328.19 L697.74 328.76 L698.33 329.33 L698.92 329.92 L699.50 330.51 L700.09 331.12 L700.67 331.73 L701.26 332.35 L701.85 332.97 L702.43 333.60 L703.02 334.22 L703.61 334.85 L704.19 335.47 L704.78 336.09 L705.36 336.71 L705.95 337.32 L706.54 337.92 L707.12 338.51 L707.71 339.10 L708.29 339.67 L708.88 340.25 L709.47 340.81 L710.05 341.37 L710.64 341.92 L711.22 342.46 L711.81 343.01 L712.40 343.55 L712.98 344.08 L713.57 344.62 L714.16 345.16 L714.74 345.70 L715.33 346.25 L715.91 346.79 L716.50 347.34 L717.09 347.90 L717.67 348.46 L718.26 349.03 L718.84 349.60 L719.43 350.18 L720.02 350.76 L720.60 351.35 L721.19 351.94 L721.77 352.53 L722.36 353.13 L722.95 353.73 L723.53 354.32 L724.12 354.92 L724.70 355.52 L725.29 356.12 L725.88 356.71 L726.46 357.31 L727.05 357.89 L727.64 358.48 L728.22 359.06 L728.81 359.63 L729.39 360.20 L729.98 360.77 L730.57 361.33 L731.15 361.89 L731.74 362.44 L732.32 362.99 L732.91 363.54 L733.50 364.09 L734.08 364.63 L734.67 365.18 L735.25 365.72 L735.84 366.27 L736.43 366.82 L737.01 367.37 L737.60 367.92 L738.19 368.48 L738.77 369.03 L739.36 369.60 L739.94 370.16 L740.53 370.73 L741.12 371.31 L741.70 371.88 L742.29 372.46 L742.87 373.04 L743.46 373.63 L744.05 374.21 L744.63 374.79 L745.22 375.37 L745.80 375.95 L746.39 376.53 L746.98 377.10 L747.56 377.67 L748.15 378.24 L748.73 378.80 L749.32 379.35 L749.91 379.90 L750.49 380.45 L751.08 380.99 L751.67 381.53 L752.25 382.06 L752.84 382.59 L753.42 383.11 L754.01 383.64 L754.60 384.16 L755.18 384.68 L755.77 385.20 L756.35 385.72 L756.94 386.24 L757.53 386.76 L758.11 387.28 L758.70 387.81 L759.28 388.34 L759.87 388.87 L760.46 389.40 L761.04 389.94 L761.63 390.48 L762.22 391.02 L762.80 391.56 L763.39 392.11 L763.97 392.65 L764.56 393.19 L765.15 393.74 L765.73 394.28 L766.32 394.82 L766.90 395.35 L767.49 395.88 L768.08 396.41 L768.66 396.93 L769.25 397.45 L769.83 397.96 L770.42 398.47 L771.01 398.97 L771.59 399.46 L772.18 399.95 L772.76 400.43 L773.35 400.91 L773.94 401.39 L774.52 401.86 L775.11 402.33 L775.70 402.80 L776.28 403.27 L776.87 403.73 L777.45 404.20 L778.04 404.67 L778.63 405.14 L779.21 405.61 L779.80 406.08 L780.38 406.55 L780.97 407.03 L781.56 407.51 L782.14 407.99 L782.73 408.47 L783.31 408.95 L783.90 409.43 L784.49 409.91 L785.07 410.39 L785.66 410.87 L786.24 411.35 L786.83 411.82 L787.42 412.29 L788.00 412.76 L788.59 413.21 L789.18 413.67 L789.76 414.11 L790.35 414.56 L790.93 414.99 L791.52 415.42 L792.11 415.84 L792.69 416.26 L793.28 416.67 L793.86 417.07 L794.45 417.47 L795.04 417.87 L795.62 418.26 L796.21 418.65 L796.79 419.04 L797.38 419.43 L797.97 419.82 L798.55 420.21 L799.14 420.59 L799.73 420.98 L800.31 421.37 L800.90 421.77 L801.48 422.16 L802.07 422.55 L802.66 422.95 L803.24 423.34 L803.83 423.74 L804.41 424.13 L805.00 424.53" stroke="#ff0000" stroke-width="2.3" stroke-dasharray="14 5 2.2 5 2.2 5 2.2 5"/>
<path d="M115.50 329.46 L116.27 329.42 L117.04 329.38 L117.80 329.33 L118.57 329.29 L119.34 329.26 L120.11 329.22 L120.87 329.18 L121.64 329.15 L122.41 329.11 L123.18 329.08 L123.94 329.05 L124.71 329.02 L125.48 328.99 L126.25 328.96 L127.01 328.93 L127.78 328.90 L128.55 328.87 L129.32 328.85 L130.08 328.82 L130.85 328.80 L131.62 328.77 L132.39 328.75 L133.15 328.72 L133.92 328.70 L134.69 328.68 L135.46 328.66 L136.22 328.64 L136.99 328.62 L137.76 328.59 L138.53 328.57 L139.29 328.55 L140.06 328.53 L140.83 328.51 L141.60 328.49 L142.36 328.47 L143.13 328.46 L143.90 328.44 L144.67 328.42 L145.43 328.40 L146.20 328.38 L146.97 328.36 L147.74 328.34 L148.50 328.32 L149.27 328.30 L150.04 328.28 L150.81 328.25 L151.57 328.23 L152.34 328.21 L153.11 328.19 L153.88 328.17 L154.64 328.14 L155.41 328.12 L156.18 328.09 L156.95 328.07 L157.71 328.04 L158.48 328.02 L159.25 327.99 L160.02 327.96 L160.78 327.93 L161.55 327.90 L162.32 327.87 L163.09 327.84 L163.85 327.81 L164.62 327.78 L165.39 327.74 L166.16 327.71 L166.92 327.67 L167.69 327.63 L168.46 327.59 L169.23 327.55 L169.99 327.51 L170.76 327.47 L171.53 327.42 L172.30 327.38 L173.06 327.33 L173.83 327.28 L174.60 327.23 L175.37 327.18 L176.13 327.13 L176.90 327.08 L177.67 327.02 L178.44 326.96 L179.20 326.90 L179.97 326.84 L180.74 326.78 L181.51 326.71 L182.27 326.65 L183.04 326.58 L183.81 326.51 L184.58 326.43 L185.34 326.36 L186.11 326.28 L186.88 326.20 L187.65 326.12 L188.41 326.04 L189.18 325.96 L189.95 325.87 L190.72 325.78 L191.48 325.69 L192.25 325.59 L193.02 325.49 L193.79 325.40 L194.55 325.29 L195.32 325.19 L196.09 325.08 L196.86 324.97 L197.62 324.86 L198.39 324.75 L199.16 324.63 L199.93 324.51 L200.69 324.39 L201.46 324.26 L202.23 324.13 L203.00 324.00 L203.76 323.87 L204.53 323.73 L205.30 323.59 L206.07 323.44 L206.83 323.30 L207.60 323.15 L208.37 323.00 L209.14 322.84 L209.90 322.68 L210.67 322.52 L211.44 322.35 L212.21 322.18 L212.97 322.01 L213.74 321.84 L214.51 321.66 L215.28 321.47 L216.05 321.29 L216.81 321.10 L217.58 320.90 L218.35 320.70 L219.12 320.50 L219.88 320.30 L220.65 320.09 L221.42 319.87 L222.19 319.65 L222.95 319.43 L223.72 319.20 L224.49 318.97 L225.26 318.73 L226.02 318.49 L226.79 318.25 L227.56 318.00 L228.33 317.74 L229.09 317.48 L229.86 317.22 L230.63 316.95 L231.40 316.67 L232.16 316.39 L232.93 316.10 L233.70 315.81 L234.47 315.52 L235.23 315.22 L236.00 314.91 L236.77 314.60 L237.54 314.28 L238.30 313.95 L239.07 313.62 L239.84 313.29 L240.61 312.95 L241.37 312.60 L242.14 312.24 L242.91 311.88 L243.68 311.52 L244.44 311.15 L245.21 310.77 L245.98 310.38 L246.75 309.99 L247.51 309.59 L248.28 309.19 L249.05 308.77 L249.82 308.36 L250.58 307.93 L251.35 307.50 L252.12 307.06 L252.89 306.61 L253.65 306.16 L254.42 305.70 L255.19 305.23 L255.96 304.76 L256.72 304.27 L257.49 303.78 L258.26 303.28 L259.03 302.78 L259.79 302.27 L260.56 301.75 L261.33 301.22 L262.10 300.68 L262.86 300.14 L263.63 299.58 L264.40 299.02 L265.17 298.45 L265.93 297.88 L266.70 297.29 L267.47 296.70 L268.24 296.10 L269.00 295.48 L269.77 294.86 L270.54 294.24 L271.31 293.60 L272.07 292.95 L272.84 292.30 L273.61 291.64 L274.38 290.96 L275.14 290.28 L275.91 289.59 L276.68 288.89 L277.45 288.18 L278.21 287.46 L278.98 286.73 L279.75 286.00 L280.52 285.25 L281.28 284.49 L282.05 283.73 L282.82 282.95 L283.59 282.16 L284.35 281.37 L285.12 280.56 L285.89 279.74 L286.66 278.92 L287.42 278.08 L288.19 277.23 L288.96 276.37 L289.73 275.51 L290.49 274.63 L291.26 273.74 L292.03 272.84 L292.80 271.93 L293.56 271.01 L294.33 270.08 L295.10 269.13 L295.87 268.18 L296.63 267.21 L297.40 266.24 L298.17 265.25 L298.94 264.25 L299.70 263.24 L300.47 262.22 L301.24 261.19 L302.01 260.14 L302.77 259.09 L303.54 258.02 L304.31 256.94 L305.08 255.86 L305.84 254.76 L306.61 253.66 L307.38 252.55 L308.15 251.44 L308.91 250.31 L309.68 249.19 L310.45 248.05 L311.22 246.92 L311.98 245.78 L312.75 244.63 L313.52 243.48 L314.29 242.33 L315.06 241.18 L315.82 240.02 L316.59 238.86 L317.36 237.70 L318.13 236.53 L318.89 235.37 L319.66 234.20 L320.43 233.03 L321.20 231.86 L321.96 230.68 L322.73 229.51 L323.50 228.33 L324.27 227.16 L325.03 225.98 L325.80 224.80 L326.57 223.63 L327.34 222.45 L328.10 221.27 L328.87 220.10 L329.64 218.92 L330.41 217.75 L331.17 216.57 L331.94 215.40 L332.71 214.23 L333.48 213.06 L334.24 211.89 L335.01 210.72 L335.78 209.56 L336.55 208.39 L337.31 207.23 L338.08 206.08 L338.85 204.92 L339.62 203.77 L340.38 202.62 L341.15 201.48 L341.92 200.34 L342.69 199.20 L343.45 198.07 L344.22 196.94 L344.99 195.82 L345.76 194.70 L346.52 193.58 L347.29 192.47 L348.06 191.37 L348.83 190.27 L349.59 189.17 L350.36 188.09 L351.13 187.00 L351.90 185.92 L352.66 184.85 L353.43 183.78 L354.20 182.72 L354.97 181.67 L355.73 180.62 L356.50 179.57 L357.27 178.53 L358.04 177.50 L358.80 176.47 L359.57 175.45 L360.34 174.43 L361.11 173.42 L361.87 172.42 L362.64 171.42 L363.41 170.43 L364.18 169.44 L364.94 168.46 L365.71 167.49 L366.48 166.52 L367.25 165.56 L368.01 164.61 L368.78 163.66 L369.55 162.71 L370.32 161.78 L371.08 160.85 L371.85 159.93 L372.62 159.01 L373.39 158.10 L374.15 157.20 L374.92 156.30 L375.69 155.41 L376.46 154.53 L377.22 153.65 L377.99 152.79 L378.76 151.92 L379.53 151.07 L380.29 150.22 L381.06 149.38 L381.83 148.55 L382.60 147.72 L383.36 146.90 L384.13 146.09 L384.90 145.28 L385.67 144.48 L386.43 143.69 L387.20 142.91 L387.97 142.13 L388.74 141.37 L389.50 140.61 L390.27 139.85 L391.04 139.11 L391.81 138.37 L392.57 137.64 L393.34 136.92 L394.11 136.20 L394.88 135.50 L395.64 134.80 L396.41 134.11 L397.18 133.42 L397.95 132.75 L398.71 132.08 L399.48 131.42 L400.25 130.77 L401.02 130.13 L401.78 129.49 L402.55 128.87 L403.32 128.25 L404.09 127.64 L404.85 127.03 L405.62 126.44 L406.39 125.85 L407.16 125.27 L407.92 124.70 L408.69 124.14 L409.46 123.59 L410.23 123.04 L410.99 122.50 L411.76 121.97 L412.53 121.45 L413.30 120.93 L414.07 120.42 L414.83 119.92 L415.60 119.43 L416.37 118.95 L417.14 118.47 L417.90 118.00 L418.67 117.54 L419.44 117.09 L420.21 116.64 L420.97 116.20 L421.74 115.77 L422.51 115.35 L423.28 114.94 L424.04 114.53 L424.81 114.13 L425.58 113.74 L426.35 113.35 L427.11 112.97 L427.88 112.60 L428.65 112.24 L429.42 111.89 L430.18 111.54 L430.95 111.20 L431.72 110.87 L432.49 110.54 L433.25 110.22 L434.02 109.91 L434.79 109.61 L435.56 109.32 L436.32 109.03 L437.09 108.75 L437.86 108.47 L438.63 108.21 L439.39 107.95 L440.16 107.70 L440.93 107.45 L441.70 107.22 L442.46 106.99 L443.23 106.76 L444.00 106.55 L444.77 106.34 L445.53 106.14 L446.30 105.94 L447.07 105.76 L447.84 105.58 L448.60 105.40 L449.37 105.24 L450.14 105.08 L450.91 104.93 L451.67 104.78 L452.44 104.64 L453.21 104.51 L453.98 104.39 L454.74 104.27 L455.51 104.16 L456.28 104.06 L457.05 103.96 L457.81 103.87 L458.58 103.79 L459.35 103.72 L460.12 103.65 L460.88 103.59 L461.65 103.53 L462.42 103.48 L463.19 103.44 L463.95 103.40 L464.72 103.38 L465.49 103.36 L466.26 103.34 L467.02 103.33 L467.79 103.33 L468.56 103.34 L469.33 103.35 L470.09 103.37 L470.86 103.39 L471.63 103.42 L472.40 103.46 L473.16 103.51 L473.93 103.56 L474.70 103.62 L475.47 103.68 L476.23 103.75 L477.00 103.83 L477.77 103.91 L478.54 104.00 L479.30 104.10 L480.07 104.20 L480.84 104.31 L481.61 104.43 L482.37 104.55 L483.14 104.68 L483.91 104.81 L484.68 104.95 L485.44 105.10 L486.21 105.25 L486.98 105.41 L487.75 105.58 L488.51 105.75 L489.28 105.93 L490.05 106.11 L490.82 106.30 L491.58 106.50 L492.35 106.70 L493.12 106.91 L493.89 107.13 L494.65 107.35 L495.42 107.58 L496.19 107.81 L496.96 108.05 L497.72 108.30 L498.49 108.55 L499.26 108.81 L500.03 109.07 L500.79 109.34 L501.56 109.62 L502.33 109.91 L503.10 110.20 L503.86 110.49 L504.63 110.79 L505.40 111.10 L506.17 111.41 L506.93 111.72 L507.70 112.04 L508.47 112.37 L509.24 112.69 L510.01 113.02 L510.77 113.36 L511.54 113.70 L512.31 114.04 L513.08 114.39 L513.84 114.75 L514.61 115.11 L515.38 115.49 L516.15 115.87 L516.91 116.27 L517.68 116.68 L518.45 117.10 L519.22 117.53 L519.98 117.97 L520.75 118.43 L521.52 118.89 L522.29 119.36 L523.05 119.83 L523.82 120.30 L524.59 120.76 L525.36 121.22 L526.12 121.66 L526.89 122.10 L527.66 122.52 L528.43 122.92 L529.19 123.32 L529.96 123.72 L530.73 124.11 L531.50 124.51 L532.26 124.92 L533.03 125.35 L533.80 125.80 L534.57 126.27 L535.33 126.77 L536.10 127.30 L536.87 127.86 L537.64 128.44 L538.40 129.05 L539.17 129.67 L539.94 130.31 L540.71 130.97 L541.47 131.64 L542.24 132.29 L543.01 132.94 L543.78 133.57 L544.54 134.17 L545.31 134.76 L546.08 135.32 L546.85 135.86 L547.61 136.38 L548.38 136.89 L549.15 137.38 L549.92 137.87 L550.68 138.36 L551.45 138.86 L552.22 139.37 L552.99 139.90 L553.75 140.45 L554.52 141.03 L555.29 141.64 L556.06 142.28 L556.82 142.95 L557.59 143.65 L558.36 144.38 L559.13 145.12 L559.89 145.88 L560.66 146.64 L561.43 147.41 L562.20 148.17 L562.96 148.92 L563.73 149.65 L564.50 150.36 L565.27 151.05 L566.03 151.72 L566.80 152.35 L567.57 152.97 L568.34 153.57 L569.10 154.15 L569.87 154.72 L570.64 155.29 L571.41 155.86 L572.17 156.44 L572.94 157.03 L573.71 157.65 L574.48 158.29 L575.24 158.96 L576.01 159.66 L576.78 160.39 L577.55 161.15 L578.31 161.94 L579.08 162.75 L579.85 163.57 L580.62 164.41 L581.38 165.25 L582.15 166.09 L582.92 166.93 L583.69 167.74 L584.45 168.54 L585.22 169.31 L585.99 170.06 L586.76 170.78 L587.52 171.47 L588.29 172.14 L589.06 172.78 L589.83 173.41 L590.59 174.03 L591.36 174.65 L592.13 175.26 L592.90 175.88 L593.66 176.52 L594.43 177.17 L595.20 177.85 L595.97 178.56 L596.73 179.30 L597.50 180.06 L598.27 180.85 L599.04 181.66 L599.80 182.49 L600.57 183.34 L601.34 184.19 L602.11 185.04 L602.87 185.88 L603.64 186.71 L604.41 187.52 L605.18 188.31 L605.94 189.07 L606.71 189.81 L607.48 190.52 L608.25 191.20 L609.02 191.85 L609.78 192.49 L610.55 193.11 L611.32 193.72 L612.09 194.33 L612.85 194.94 L613.62 195.57 L614.39 196.21 L615.16 196.87 L615.92 197.56 L616.69 198.27 L617.46 199.01 L618.23 199.77 L618.99 200.56 L619.76 201.37 L620.53 202.20 L621.30 203.03 L622.06 203.87 L622.83 204.71 L623.60 205.53 L624.37 206.34 L625.13 207.13 L625.90 207.89 L626.67 208.63 L627.44 209.34 L628.20 210.02 L628.97 210.67 L629.74 211.30 L630.51 211.91 L631.27 212.51 L632.04 213.10 L632.81 213.69 L633.58 214.29 L634.34 214.90 L635.11 215.52 L635.88 216.17 L636.65 216.84 L637.41 217.53 L638.18 218.26 L638.95 219.00 L639.72 219.77 L640.48 220.56 L641.25 221.36 L642.02 222.16 L642.79 222.97 L643.55 223.77 L644.32 224.56 L645.09 225.33 L645.86 226.07 L646.62 226.80 L647.39 227.49 L648.16 228.15 L648.93 228.79 L649.69 229.40 L650.46 229.99 L651.23 230.56 L652.00 231.11 L652.76 231.67 L653.53 232.22 L654.30 232.78 L655.07 233.36 L655.83 233.95 L656.60 234.56 L657.37 235.20 L658.14 235.86 L658.90 236.55 L659.67 237.27 L660.44 238.00 L661.21 238.75 L661.97 239.51 L662.74 240.27 L663.51 241.03 L664.28 241.78 L665.04 242.52 L665.81 243.23 L666.58 243.93 L667.35 244.59 L668.11 245.23 L668.88 245.84 L669.65 246.42 L670.42 246.98 L671.18 247.52 L671.95 248.05 L672.72 248.56 L673.49 249.08 L674.25 249.60 L675.02 250.13 L675.79 250.68 L676.56 251.24 L677.32 251.83 L678.09 252.45 L678.86 253.09 L679.63 253.76 L680.39 254.44 L681.16 255.14 L681.93 255.86 L682.70 256.58 L683.46 257.30 L684.23 258.02 L685.00 258.73 L685.77 259.42 L686.53 260.08 L687.30 260.73 L688.07 261.35 L688.84 261.95 L689.60 262.52 L690.37 263.07 L691.14 263.61 L691.91 264.13 L692.67 264.64 L693.44 265.16 L694.21 265.67 L694.98 266.19 L695.74 266.73 L696.51 267.28 L697.28 267.84 L698.05 268.43 L698.81 269.03 L699.58 269.65 L700.35 270.28 L701.12 270.92 L701.88 271.57 L702.65 272.23 L703.42 272.88 L704.19 273.53 L704.95 274.18 L705.72 274.83 L706.49 275.47 L707.26 276.10 L708.03 276.72 L708.79 277.32 L709.56 277.91 L710.33 278.48 L711.10 279.05 L711.86 279.61 L712.63 280.16 L713.40 280.71 L714.17 281.27 L714.93 281.82 L715.70 282.38 L716.47 282.94 L717.24 283.51 L718.00 284.09 L718.77 284.68 L719.54 285.27 L720.31 285.88 L721.07 286.49 L721.84 287.10 L722.61 287.72 L723.38 288.34 L724.14 288.96 L724.91 289.58 L725.68 290.19 L726.45 290.80 L727.21 291.40 L727.98 291.99 L728.75 292.58 L729.52 293.15 L730.28 293.72 L731.05 294.28 L731.82 294.83 L732.59 295.38 L733.35 295.92 L734.12 296.47 L734.89 297.01 L735.66 297.55 L736.42 298.09 L737.19 298.64 L737.96 299.19 L738.73 299.75 L739.49 300.31 L740.26 300.88 L741.03 301.46 L741.80 302.04 L742.56 302.63 L743.33 303.22 L744.10 303.81 L744.87 304.40 L745.63 304.99 L746.40 305.57 L747.17 306.15 L747.94 306.73 L748.70 307.29 L749.47 307.85 L750.24 308.40 L751.01 308.95 L751.77 309.49 L752.54 310.02 L753.31 310.54 L754.08 311.07 L754.84 311.59 L755.61 312.10 L756.38 312.63 L757.15 313.15 L757.91 313.68 L758.68 314.21 L759.45 314.75 L760.22 315.29 L760.98 315.84 L761.75 316.40 L762.52 316.96 L763.29 317.53 L764.05 318.09 L764.82 318.66 L765.59 319.23 L766.36 319.80 L767.12 320.36 L767.89 320.92 L768.66 321.47 L769.43 322.01 L770.19 322.55 L770.96 323.08 L771.73 323.60 L772.50 324.11 L773.26 324.62 L774.03 325.13 L774.80 325.63 L775.57 326.13 L776.33 326.63 L777.10 327.13 L777.87 327.64 L778.64 328.15 L779.40 328.66 L780.17 329.18 L780.94 329.71 L781.71 330.24 L782.47 330.78 L783.24 331.33 L784.01 331.87 L784.78 332.42 L785.54 332.97 L786.31 333.52 L787.08 334.07 L787.85 334.61 L788.61 335.15 L789.38 335.68 L790.15 336.20 L790.92 336.72 L791.68 337.23 L792.45 337.73 L793.22 338.22 L793.99 338.71 L794.75 339.20 L795.52 339.68 L796.29 340.16 L797.06 340.65 L797.82 341.13 L798.59 341.62 L799.36 342.11 L800.13 342.62 L800.89 343.12 L801.66 343.63 L802.43 344.15 L803.20 344.68 L803.96 345.21 L804.73 345.74 L805.50 346.27" stroke="#556b2f" stroke-width="2.4"/>
<path d="M115.50 157.10 L116.27 157.08 L117.04 157.07 L117.80 157.06 L118.57 157.04 L119.34 157.03 L120.11 157.02 L120.87 157.00 L121.64 156.99 L122.41 156.97 L123.18 156.96 L123.94 156.94 L124.71 156.93 L125.48 156.91 L126.25 156.89 L127.01 156.88 L127.78 156.86 L128.55 156.84 L129.32 156.82 L130.08 156.81 L130.85 156.79 L131.62 156.77 L132.39 156.75 L133.15 156.73 L133.92 156.71 L134.69 156.69 L135.46 156.66 L136.22 156.64 L136.99 156.62 L137.76 156.60 L138.53 156.57 L139.29 156.55 L140.06 156.52 L140.83 156.50 L141.60 156.47 L142.36 156.45 L143.13 156.42 L143.90 156.39 L144.67 156.36 L145.43 156.33 L146.20 156.30 L146.97 156.27 L147.74 156.24 L148.50 156.21 L149.27 156.18 L150.04 156.14 L150.81 156.11 L151.57 156.08 L152.34 156.04 L153.11 156.01 L153.88 155.97 L154.64 155.93 L155.41 155.89 L156.18 155.85 L156.95 155.82 L157.71 155.77 L158.48 155.73 L159.25 155.69 L160.02 155.65 L160.78 155.60 L161.55 155.56 L162.32 155.51 L163.09 155.47 L163.85 155.42 L164.62 155.37 L165.39 155.32 L166.16 155.27 L166.92 155.22 L167.69 155.17 L168.46 155.12 L169.23 155.06 L169.99 155.01 L170.76 154.95 L171.53 154.90 L172.30 154.84 L173.06 154.78 L173.83 154.72 L174.60 154.66 L175.37 154.60 L176.13 154.54 L176.90 154.47 L177.67 154.41 L178.44 154.34 L179.20 154.27 L179.97 154.21 L180.74 154.14 L181.51 154.07 L182.27 154.00 L183.04 153.92 L183.81 153.85 L184.58 153.77 L185.34 153.70 L186.11 153.62 L186.88 153.54 L187.65 153.46 L188.41 153.38 L189.18 153.30 L189.95 153.21 L190.72 153.13 L191.48 153.04 L192.25 152.96 L193.02 152.87 L193.79 152.78 L194.55 152.69 L195.32 152.59 L196.09 152.50 L196.86 152.41 L197.62 152.31 L198.39 152.21 L199.16 152.11 L199.93 152.01 L200.69 151.91 L201.46 151.81 L202.23 151.70 L203.00 151.59 L203.76 151.49 L204.53 151.38 L205.30 151.27 L206.07 151.15 L206.83 151.04 L207.60 150.93 L208.37 150.81 L209.14 150.69 L209.90 150.57 L210.67 150.45 L211.44 150.33 L212.21 150.20 L212.97 150.07 L213.74 149.95 L214.51 149.82 L215.28 149.68 L216.05 149.55 L216.81 149.41 L217.58 149.27 L218.35 149.13 L219.12 148.99 L219.88 148.85 L220.65 148.70 L221.42 148.55 L222.19 148.40 L222.95 148.25 L223.72 148.09 L224.49 147.93 L225.26 147.77 L226.02 147.61 L226.79 147.44 L227.56 147.27 L228.33 147.10 L229.09 146.93 L229.86 146.75 L230.63 146.58 L231.40 146.39 L232.16 146.21 L232.93 146.02 L233.70 145.83 L234.47 145.64 L235.23 145.45 L236.00 145.25 L236.77 145.05 L237.54 144.84 L238.30 144.64 L239.07 144.43 L239.84 144.21 L240.61 144.00 L241.37 143.78 L242.14 143.55 L242.91 143.33 L243.68 143.10 L244.44 142.87 L245.21 142.63 L245.98 142.39 L246.75 142.15 L247.51 141.90 L248.28 141.65 L249.05 141.40 L249.82 141.14 L250.58 140.88 L251.35 140.62 L252.12 140.35 L252.89 140.08 L253.65 139.80 L254.42 139.52 L255.19 139.24 L255.96 138.95 L256.72 138.66 L257.49 138.36 L258.26 138.06 L259.03 137.76 L259.79 137.45 L260.56 137.14 L261.33 136.83 L262.10 136.51 L262.86 136.18 L263.63 135.86 L264.40 135.52 L265.17 135.19 L265.93 134.85 L266.70 134.50 L267.47 134.15 L268.24 133.80 L269.00 133.44 L269.77 133.07 L270.54 132.70 L271.31 132.33 L272.07 131.95 L272.84 131.57 L273.61 131.19 L274.38 130.79 L275.14 130.40 L275.91 130.00 L276.68 129.59 L277.45 129.18 L278.21 128.76 L278.98 128.34 L279.75 127.91 L280.52 127.48 L281.28 127.05 L282.05 126.60 L282.82 126.16 L283.59 125.70 L284.35 125.25 L285.12 124.78 L285.89 124.32 L286.66 123.84 L287.42 123.36 L288.19 122.88 L288.96 122.39 L289.73 121.89 L290.49 121.39 L291.26 120.89 L292.03 120.37 L292.80 119.85 L293.56 119.33 L294.33 118.79 L295.10 118.25 L295.87 117.70 L296.63 117.15 L297.40 116.58 L298.17 116.01 L298.94 115.43 L299.70 114.84 L300.47 114.24 L301.24 113.63 L302.01 113.01 L302.77 112.38 L303.54 111.75 L304.31 111.10 L305.08 110.44 L305.84 109.78 L306.61 109.11 L307.38 108.43 L308.15 107.74 L308.91 107.05 L309.68 106.35 L310.45 105.64 L311.22 104.92 L311.98 104.20 L312.75 103.48 L313.52 102.74 L314.29 102.01 L315.06 101.27 L315.82 100.52 L316.59 99.77 L317.36 99.01 L318.13 98.25 L318.89 97.49 L319.66 96.73 L320.43 95.96 L321.20 95.19 L321.96 94.42 L322.73 93.64 L323.50 92.86 L324.27 92.09 L325.03 91.31 L325.80 90.53 L326.57 89.75 L327.34 88.97 L328.10 88.19 L328.87 87.41 L329.64 86.63 L330.41 85.85 L331.17 85.07 L331.94 84.30 L332.71 83.53 L333.48 82.75 L334.24 81.99 L335.01 81.22 L335.78 80.46 L336.55 79.70 L337.31 78.94 L338.08 78.19 L338.85 77.44 L339.62 76.70 L340.38 75.96 L341.15 75.23 L341.92 74.50 L342.69 73.78 L343.45 73.06 L344.22 72.35 L344.99 71.65 L345.76 70.95 L346.52 70.26 L347.29 69.58 L348.06 68.91 L348.83 68.24 L349.59 67.59 L350.36 66.94 L351.13 66.30 L351.90 65.66 L352.66 65.04 L353.43 64.42 L354.20 63.82 L354.97 63.22 L355.73 62.63 L356.50 62.05 L357.27 61.48 L358.04 60.91 L358.80 60.36 L359.57 59.81 L360.34 59.28 L361.11 58.75 L361.87 58.23 L362.64 57.72 L363.41 57.21 L364.18 56.72 L364.94 56.24 L365.71 55.76 L366.48 55.29 L367.25 54.84 L368.01 54.39 L368.78 53.95 L369.55 53.52 L370.32 53.10 L371.08 52.69 L371.85 52.29 L372.62 51.89 L373.39 51.51 L374.15 51.13 L374.92 50.77 L375.69 50.41 L376.46 50.07 L377.22 49.73 L377.99 49.40 L378.76 49.09 L379.53 48.78 L380.29 48.48 L381.06 48.19 L381.83 47.91 L382.60 47.64 L383.36 47.38 L384.13 47.13 L384.90 46.89 L385.67 46.66 L386.43 46.44 L387.20 46.23 L387.97 46.02 L388.74 45.83 L389.50 45.65 L390.27 45.48 L391.04 45.32 L391.81 45.17 L392.57 45.02 L393.34 44.89 L394.11 44.77 L394.88 44.66 L395.64 44.56 L396.41 44.47 L397.18 44.39 L397.95 44.32 L398.71 44.26 L399.48 44.21 L400.25 44.17 L401.02 44.14 L401.78 44.12 L402.55 44.12 L403.32 44.12 L404.09 44.13 L404.85 44.15 L405.62 44.19 L406.39 44.23 L407.16 44.29 L407.92 44.36 L408.69 44.43 L409.46 44.52 L410.23 44.62 L410.99 44.73 L411.76 44.85 L412.53 44.98 L413.30 45.12 L414.07 45.27 L414.83 45.44 L415.60 45.61 L416.37 45.79 L417.14 45.99 L417.90 46.19 L418.67 46.41 L419.44 46.63 L420.21 46.87 L420.97 47.11 L421.74 47.36 L422.51 47.63 L423.28 47.90 L424.04 48.18 L424.81 48.47 L425.58 48.78 L426.35 49.09 L427.11 49.41 L427.88 49.73 L428.65 50.07 L429.42 50.42 L430.18 50.77 L430.95 51.13 L431.72 51.51 L432.49 51.89 L433.25 52.27 L434.02 52.67 L434.79 53.07 L435.56 53.49 L436.32 53.91 L437.09 54.33 L437.86 54.77 L438.63 55.21 L439.39 55.66 L440.16 56.12 L440.93 56.59 L441.70 57.06 L442.46 57.54 L443.23 58.03 L444.00 58.52 L444.77 59.02 L445.53 59.53 L446.30 60.04 L447.07 60.56 L447.84 61.09 L448.60 61.62 L449.37 62.16 L450.14 62.70 L450.91 63.25 L451.67 63.81 L452.44 64.37 L453.21 64.94 L453.98 65.52 L454.74 66.10 L455.51 66.68 L456.28 67.27 L457.05 67.87 L457.81 68.47 L458.58 69.08 L459.35 69.69 L460.12 70.30 L460.88 70.92 L461.65 71.55 L462.42 72.18 L463.19 72.81 L463.95 73.45 L464.72 74.09 L465.49 74.74 L466.26 75.39 L467.02 76.05 L467.79 76.71 L468.56 77.37 L469.33 78.04 L470.09 78.71 L470.86 79.38 L471.63 80.06 L472.40 80.74 L473.16 81.42 L473.93 82.11 L474.70 82.80 L475.47 83.49 L476.23 84.18 L477.00 84.88 L477.77 85.58 L478.54 86.29 L479.30 86.99 L480.07 87.70 L480.84 88.41 L481.61 89.12 L482.37 89.84 L483.14 90.55 L483.91 91.27 L484.68 91.99 L485.44 92.71 L486.21 93.43 L486.98 94.16 L487.75 94.88 L488.51 95.61 L489.28 96.34 L490.05 97.07 L490.82 97.80 L491.58 98.53 L492.35 99.26 L493.12 99.99 L493.89 100.72 L494.65 101.46 L495.42 102.19 L496.19 102.92 L496.96 103.66 L497.72 104.40 L498.49 105.13 L499.26 105.87 L500.03 106.61 L500.79 107.35 L501.56 108.09 L502.33 108.83 L503.10 109.57 L503.86 110.31 L504.63 111.05 L505.40 111.79 L506.17 112.53 L506.93 113.27 L507.70 114.01 L508.47 114.75 L509.24 115.49 L510.01 116.22 L510.77 116.95 L511.54 117.69 L512.31 118.42 L513.08 119.16 L513.84 119.89 L514.61 120.63 L515.38 121.37 L516.15 122.12 L516.91 122.88 L517.68 123.64 L518.45 124.42 L519.22 125.20 L519.98 125.99 L520.75 126.78 L521.52 127.58 L522.29 128.38 L523.05 129.17 L523.82 129.96 L524.59 130.74 L525.36 131.51 L526.12 132.27 L526.89 133.01 L527.66 133.73 L528.43 134.44 L529.19 135.13 L529.96 135.82 L530.73 136.50 L531.50 137.18 L532.26 137.87 L533.03 138.58 L533.80 139.30 L534.57 140.04 L535.33 140.81 L536.10 141.60 L536.87 142.42 L537.64 143.26 L538.40 144.12 L539.17 145.00 L539.94 145.89 L540.71 146.78 L541.47 147.66 L542.24 148.54 L543.01 149.40 L543.78 150.24 L544.54 151.06 L545.31 151.86 L546.08 152.62 L546.85 153.36 L547.61 154.08 L548.38 154.78 L549.15 155.47 L549.92 156.14 L550.68 156.82 L551.45 157.50 L552.22 158.18 L552.99 158.89 L553.75 159.61 L554.52 160.37 L555.29 161.13 L556.06 161.90 L556.82 162.70 L557.59 163.53 L558.36 164.37 L559.13 165.23 L559.89 166.11 L560.66 166.98 L561.43 167.86 L562.20 168.72 L562.96 169.58 L563.73 170.41 L564.50 171.22 L565.27 172.00 L566.03 172.76 L566.80 173.48 L567.57 174.19 L568.34 174.87 L569.10 175.53 L569.87 176.18 L570.64 176.83 L571.41 177.47 L572.17 178.12 L572.94 178.79 L573.71 179.47 L574.48 180.17 L575.24 180.90 L576.01 181.66 L576.78 182.45 L577.55 183.26 L578.31 184.10 L579.08 184.96 L579.85 185.83 L580.62 186.71 L581.38 187.59 L582.15 188.47 L582.92 189.34 L583.69 190.19 L584.45 191.02 L585.22 191.83 L585.99 192.61 L586.76 193.36 L587.52 194.08 L588.29 194.77 L589.06 195.45 L589.83 196.10 L590.59 196.75 L591.36 197.38 L592.13 198.02 L592.90 198.67 L593.66 199.32 L594.43 200.00 L595.20 200.69 L595.97 201.42 L596.73 202.16 L597.50 202.93 L598.27 203.73 L599.04 204.55 L599.80 205.38 L600.57 206.22 L601.34 207.06 L602.11 207.91 L602.87 208.74 L603.64 209.56 L604.41 210.36 L605.18 211.14 L605.94 211.89 L606.71 212.61 L607.48 213.30 L608.25 213.96 L609.02 214.60 L609.78 215.21 L610.55 215.81 L611.32 216.40 L612.09 216.99 L612.85 217.58 L613.62 218.18 L614.39 218.79 L615.16 219.43 L615.92 220.08 L616.69 220.77 L617.46 221.48 L618.23 222.21 L618.99 222.97 L619.76 223.75 L620.53 224.54 L621.30 225.34 L622.06 226.14 L622.83 226.94 L623.60 227.73 L624.37 228.51 L625.13 229.26 L625.90 229.99 L626.67 230.69 L627.44 231.37 L628.20 232.01 L628.97 232.63 L629.74 233.22 L630.51 233.80 L631.27 234.37 L632.04 234.92 L632.81 235.49 L633.58 236.05 L634.34 236.64 L635.11 237.24 L635.88 237.86 L636.65 238.51 L637.41 239.19 L638.18 239.89 L638.95 240.62 L639.72 241.38 L640.48 242.16 L641.25 242.95 L642.02 243.75 L642.79 244.55 L643.55 245.34 L644.32 246.13 L645.09 246.90 L645.86 247.65 L646.62 248.37 L647.39 249.07 L648.16 249.74 L648.93 250.39 L649.69 251.01 L650.46 251.61 L651.23 252.19 L652.00 252.77 L652.76 253.34 L653.53 253.92 L654.30 254.50 L655.07 255.10 L655.83 255.72 L656.60 256.37 L657.37 257.04 L658.14 257.74 L658.90 258.47 L659.67 259.22 L660.44 260.00 L661.21 260.79 L661.97 261.60 L662.74 262.41 L663.51 263.22 L664.28 264.02 L665.04 264.81 L665.81 265.55 L666.58 266.27 L667.35 266.97 L668.11 267.64 L668.88 268.28 L669.65 268.89 L670.42 269.49 L671.18 270.06 L671.95 270.62 L672.72 271.18 L673.49 271.73 L674.25 272.29 L675.02 272.86 L675.79 273.45 L676.56 274.06 L677.32 274.69 L678.09 275.35 L678.86 276.03 L679.63 276.74 L680.39 277.47 L681.16 278.22 L681.93 278.98 L682.70 279.75 L683.46 280.52 L684.23 281.29 L685.00 282.04 L685.77 282.78 L686.53 283.50 L687.30 284.20 L688.07 284.87 L688.84 285.52 L689.60 286.15 L690.37 286.75 L691.14 287.34 L691.91 287.92 L692.67 288.49 L693.44 289.05 L694.21 289.63 L694.98 290.21 L695.74 290.80 L696.51 291.40 L697.28 292.03 L698.05 292.67 L698.81 293.33 L699.58 294.01 L700.35 294.70 L701.12 295.40 L701.88 296.11 L702.65 296.82 L703.42 297.54 L704.19 298.25 L704.95 298.95 L705.72 299.65 L706.49 300.33 L707.26 300.99 L708.03 301.65 L708.79 302.29 L709.56 302.91 L710.33 303.53 L711.10 304.13 L711.86 304.73 L712.63 305.32 L713.40 305.91 L714.17 306.49 L714.93 307.08 L715.70 307.68 L716.47 308.28 L717.24 308.89 L718.00 309.50 L718.77 310.12 L719.54 310.75 L720.31 311.39 L721.07 312.04 L721.84 312.68 L722.61 313.33 L723.38 313.99 L724.14 314.64 L724.91 315.29 L725.68 315.93 L726.45 316.57 L727.21 317.20 L727.98 317.82 L728.75 318.44 L729.52 319.04 L730.28 319.64 L731.05 320.22 L731.82 320.80 L732.59 321.38 L733.35 321.94 L734.12 322.51 L734.89 323.07 L735.66 323.63 L736.42 324.20 L737.19 324.77 L737.96 325.34 L738.73 325.91 L739.49 326.49 L740.26 327.08 L741.03 327.67 L741.80 328.27 L742.56 328.87 L743.33 329.47 L744.10 330.07 L744.87 330.67 L745.63 331.26 L746.40 331.86 L747.17 332.44 L747.94 333.02 L748.70 333.59 L749.47 334.15 L750.24 334.71 L751.01 335.25 L751.77 335.78 L752.54 336.31 L753.31 336.83 L754.08 337.35 L754.84 337.86 L755.61 338.37 L756.38 338.88 L757.15 339.39 L757.91 339.91 L758.68 340.43 L759.45 340.95 L760.22 341.48 L760.98 342.01 L761.75 342.55 L762.52 343.09 L763.29 343.64 L764.05 344.19 L764.82 344.74 L765.59 345.29 L766.36 345.84 L767.12 346.38 L767.89 346.92 L768.66 347.46 L769.43 347.98 L770.19 348.51 L770.96 349.02 L771.73 349.53 L772.50 350.04 L773.26 350.54 L774.03 351.04 L774.80 351.53 L775.57 352.03 L776.33 352.53 L777.10 353.03 L777.87 353.54 L778.64 354.06 L779.40 354.59 L780.17 355.12 L780.94 355.66 L781.71 356.22 L782.47 356.78 L783.24 357.35 L784.01 357.93 L784.78 358.51 L785.54 359.10 L786.31 359.69 L787.08 360.28 L787.85 360.88 L788.61 361.47 L789.38 362.06 L790.15 362.65 L790.92 363.23 L791.68 363.82 L792.45 364.40 L793.22 364.98 L793.99 365.56 L794.75 366.14 L795.52 366.73 L796.29 367.32 L797.06 367.92 L797.82 368.53 L798.59 369.15 L799.36 369.78 L800.13 370.42 L800.89 371.08 L801.66 371.75 L802.43 372.43 L803.20 373.12 L803.96 373.83 L804.73 374.55 L805.50 375.28" stroke="#ff0000" stroke-width="2.3" stroke-dasharray="2.2 4.5"/>
<path d="M115.5 217.31 L805.5 217.31" stroke="#000" stroke-width="2.3" stroke-dasharray="2.2 4.5"/>
</g>
<g stroke="#000" stroke-width="2.3" fill="none" stroke-linecap="butt" stroke-linejoin="round">
<rect x="115.5" y="10.2" width="690.0" height="414.3"/>
<path d="M132.05 424.5 v-4.4 M132.05 10.2 v4.4"/>
<path d="M146.04 424.5 v-4.4 M146.04 10.2 v4.4"/>
<path d="M158.17 424.5 v-4.4 M158.17 10.2 v4.4"/>
<path d="M168.86 424.5 v-4.4 M168.86 10.2 v4.4"/>
<path d="M178.42 424.5 v-8.6 M178.42 10.2 v8.6"/>
<path d="M241.35 424.5 v-4.4 M241.35 10.2 v4.4"/>
<path d="M278.15 424.5 v-4.4 M278.15 10.2 v4.4"/>
<path d="M304.27 424.5 v-4.4 M304.27 10.2 v4.4"/>
<path d="M324.53 424.5 v-4.4 M324.53 10.2 v4.4"/>
<path d="M341.08 424.5 v-4.4 M341.08 10.2 v4.4"/>
<path d="M355.07 424.5 v-4.4 M355.07 10.2 v4.4"/>
<path d="M367.19 424.5 v-4.4 M367.19 10.2 v4.4"/>
<path d="M377.88 424.5 v-4.4 M377.88 10.2 v4.4"/>
<path d="M387.45 424.5 v-8.6 M387.45 10.2 v8.6"/>
<path d="M450.37 424.5 v-4.4 M450.37 10.2 v4.4"/>
<path d="M487.18 424.5 v-4.4 M487.18 10.2 v4.4"/>
<path d="M513.29 424.5 v-4.4 M513.29 10.2 v4.4"/>
<path d="M533.55 424.5 v-4.4 M533.55 10.2 v4.4"/>
<path d="M550.10 424.5 v-4.4 M550.10 10.2 v4.4"/>
<path d="M564.10 424.5 v-4.4 M564.10 10.2 v4.4"/>
<path d="M576.22 424.5 v-4.4 M576.22 10.2 v4.4"/>
<path d="M586.91 424.5 v-4.4 M586.91 10.2 v4.4"/>
<path d="M596.47 424.5 v-8.6 M596.47 10.2 v8.6"/>
<path d="M659.40 424.5 v-4.4 M659.40 10.2 v4.4"/>
<path d="M696.20 424.5 v-4.4 M696.20 10.2 v4.4"/>
<path d="M722.32 424.5 v-4.4 M722.32 10.2 v4.4"/>
<path d="M742.58 424.5 v-4.4 M742.58 10.2 v4.4"/>
<path d="M759.13 424.5 v-4.4 M759.13 10.2 v4.4"/>
<path d="M773.12 424.5 v-4.4 M773.12 10.2 v4.4"/>
<path d="M785.24 424.5 v-4.4 M785.24 10.2 v4.4"/>
<path d="M795.94 424.5 v-4.4 M795.94 10.2 v4.4"/>
<path d="M115.5 376.56 h6.8 M805.5 376.56 h-6.8"/>
<path d="M115.5 348.52 h6.8 M805.5 348.52 h-6.8"/>
<path d="M115.5 328.62 h6.8 M805.5 328.62 h-6.8"/>
<path d="M115.5 313.19 h6.8 M805.5 313.19 h-6.8"/>
<path d="M115.5 300.58 h6.8 M805.5 300.58 h-6.8"/>
<path d="M115.5 289.92 h6.8 M805.5 289.92 h-6.8"/>
<path d="M115.5 280.68 h6.8 M805.5 280.68 h-6.8"/>
<path d="M115.5 272.54 h6.8 M805.5 272.54 h-6.8"/>
<path d="M115.5 265.25 h13.6 M805.5 265.25 h-13.6"/>
<path d="M115.5 217.31 h6.8 M805.5 217.31 h-6.8"/>
<path d="M115.5 189.27 h6.8 M805.5 189.27 h-6.8"/>
<path d="M115.5 169.37 h6.8 M805.5 169.37 h-6.8"/>
<path d="M115.5 153.94 h6.8 M805.5 153.94 h-6.8"/>
<path d="M115.5 141.33 h6.8 M805.5 141.33 h-6.8"/>
<path d="M115.5 130.67 h6.8 M805.5 130.67 h-6.8"/>
<path d="M115.5 121.43 h6.8 M805.5 121.43 h-6.8"/>
<path d="M115.5 113.29 h6.8 M805.5 113.29 h-6.8"/>
<path d="M115.5 106.00 h13.6 M805.5 106.00 h-13.6"/>
<path d="M115.5 58.06 h6.8 M805.5 58.06 h-6.8"/>
<path d="M115.5 30.02 h6.8 M805.5 30.02 h-6.8"/>
</g>
<g font-family="Liberation Sans, sans-serif" font-size="24" fill="#000" stroke="#000" stroke-width="0.5" style="will-change:transform">
<text x="66.66" y="118.20" text-anchor="end">0.</text>
<path fill="#000" stroke="none" d="M75.75 100.95 L75.75 118.20 L73.00 118.20 L73.00 106.30 L68.85 106.30 L68.85 104.30 Q72.75 104.10 73.80 100.95 Z"/>
<text x="80.00" y="118.20" text-anchor="start">00</text>
<text x="80.00" y="277.55" text-anchor="end">0.0</text>
<path fill="#000" stroke="none" d="M89.10 260.30 L89.10 277.55 L86.35 277.55 L86.35 265.65 L82.20 265.65 L82.20 263.65 Q86.10 263.45 87.15 260.30 Z"/>
<text x="93.35" y="277.55" text-anchor="start">0</text>
<text x="93.35" y="424.90" text-anchor="end">0.00</text>
<path fill="#000" stroke="none" d="M102.45 407.65 L102.45 424.90 L99.70 424.90 L99.70 413.00 L95.55 413.00 L95.55 411.00 Q99.45 410.80 100.50 407.65 Z"/>
<text x="187.63" y="468.00" text-anchor="end">0.0</text>
<path fill="#000" stroke="none" d="M196.73 450.75 L196.73 468.00 L193.98 468.00 L193.98 456.10 L189.83 456.10 L189.83 454.10 Q193.73 453.90 194.78 450.75 Z"/>
<text x="389.68" y="468.00" text-anchor="end">0.</text>
<path fill="#000" stroke="none" d="M398.78 450.75 L398.78 468.00 L396.03 468.00 L396.03 456.10 L391.88 456.10 L391.88 454.10 Q395.78 453.90 396.83 450.75 Z"/>
<path fill="#000" stroke="none" d="M597.80 450.75 L597.80 468.00 L595.05 468.00 L595.05 456.10 L590.90 456.10 L590.90 454.10 Q594.80 453.90 595.85 450.75 Z"/>
<path fill="#000" stroke="none" d="M801.55 450.75 L801.55 468.00 L798.80 468.00 L798.80 456.10 L794.65 456.10 L794.65 454.10 Q798.55 453.90 799.60 450.75 Z"/>
<text x="805.80" y="468.00" text-anchor="start">0</text>
<text x="394.4" y="504.7" font-size="23.75">Radius</text>
<text x="476.8" y="504.7" font-size="23.75">(</text>
<text x="496.7" y="504.7" font-size="23.75">m</text>
<text x="517.5" y="504.7" font-size="23.75">)</text>
<text transform="translate(481.9 504.7) scale(1.18 1)" x="0" y="0" font-family="Liberation Serif, serif" font-style="italic" font-size="24" stroke-width="0.15">&#956;</text>
</g>
<g font-family="Liberation Sans, sans-serif" font-size="21.0" stroke-width="0.4" style="will-change:transform">
<g fill="#0000ff" stroke="#0000ff">
<text x="646.08" y="57.9">KIC</text>
<path fill="#0000ff" stroke="none" d="M694.88 42.81 L694.88 57.90 L692.48 57.90 L692.48 47.49 L688.84 47.49 L688.84 45.74 Q692.26 45.56 693.18 42.81 Z"/>
<text x="698.60" y="57.9">255b</text></g>
<text x="695.70" y="81.9" text-anchor="middle" fill="#556b2f" stroke="#556b2f">KOI 2700b</text>
<text x="695.70" y="106.0" text-anchor="middle" fill="#ff0000" stroke="#ff0000">K2-22b</text>
</g>
<g fill="#000" stroke="none" transform="translate(0 0.7)">
<path d="M40.98 226.80 L40.19 226.61 L39.39 226.43 L38.60 226.25 L37.80 226.07 L37.00 225.89 L36.20 225.71 L35.41 225.54 L34.61 225.36 L33.81 225.19 L33.01 225.02 L32.21 224.86 L31.41 224.69 L30.61 224.52 L29.80 224.36 L29.00 224.19 L28.20 224.02 L27.41 223.86 L26.61 223.69 L25.81 223.52 L25.01 223.36 L24.21 223.19 L23.42 223.02 L22.62 222.85 L21.83 222.68 L21.03 222.50 L20.24 222.32 L19.46 222.14 L18.67 221.95 L17.89 221.76 L17.12 221.56 L16.34 221.35 L15.57 221.13 L14.80 220.91 L14.03 220.67 L13.27 220.42 L12.51 220.17 L11.76 219.90 L11.01 219.62 L10.27 219.33 L9.54 219.03 L8.83 218.70 L8.13 218.35 L7.45 217.97 L6.79 217.55 L6.18 217.10 L5.65 216.60 L5.23 216.06 L4.91 215.44 L4.71 214.76 L4.61 214.04 L4.64 213.29 L4.79 212.59 L5.06 211.96 L5.45 211.46 L5.94 211.08 L6.51 210.81 L7.10 210.64 L7.70 210.54 L8.33 210.51 L8.97 210.54 L9.61 210.63 L10.24 210.78 L10.85 210.98 L11.44 211.23 L12.04 211.56 L12.61 211.95 L13.16 212.42 L13.65 212.96 L14.08 213.55 L14.44 214.19 L14.72 214.89 L14.92 215.62 L15.06 216.39 L15.15 217.17 L15.21 217.97 L15.24 218.77 L15.25 219.57 L15.25 220.38 L15.24 221.19 L16.56 221.21 L16.56 220.39 L16.56 219.56 L16.54 218.74 L16.52 217.90 L16.47 217.07 L16.39 216.22 L16.28 215.37 L16.12 214.51 L15.90 213.65 L15.60 212.79 L15.23 211.96 L14.78 211.15 L14.24 210.37 L13.61 209.65 L12.87 209.01 L12.04 208.47 L11.12 208.06 L10.16 207.80 L9.16 207.68 L8.16 207.70 L7.15 207.88 L6.18 208.25 L5.29 208.81 L4.53 209.53 L3.93 210.38 L3.52 211.30 L3.28 212.24 L3.19 213.19 L3.21 214.13 L3.35 215.05 L3.61 215.95 L4.00 216.80 L4.53 217.56 L5.16 218.23 L5.84 218.83 L6.54 219.36 L7.26 219.84 L8.00 220.28 L8.74 220.69 L9.49 221.07 L10.24 221.43 L11.00 221.78 L11.77 222.11 L12.54 222.42 L13.31 222.73 L14.09 223.02 L14.88 223.30 L15.67 223.57 L16.46 223.83 L17.25 224.07 L18.04 224.31 L18.84 224.54 L19.63 224.76 L20.43 224.97 L21.23 225.18 L22.02 225.39 L22.81 225.59 L23.61 225.79 L24.40 225.99 L25.19 226.19 L25.99 226.39 L26.78 226.59 L27.57 226.79 L28.36 226.99 L29.15 227.19 L29.94 227.39 L30.73 227.59 L31.52 227.79 L32.31 228.00 L33.10 228.20 L33.89 228.40 L34.68 228.61 L35.47 228.81 L36.26 229.01 L37.05 229.21 L37.84 229.41 L38.63 229.61 L39.42 229.81 L40.22 230.00Z"/>
<path d="M16.45 216.71 L16.54 216.29 L16.63 215.88 L16.74 215.48 L16.86 215.11 L17.00 214.76 L17.16 214.44 L17.36 214.15 L17.59 213.89 L17.84 213.65 L18.13 213.43 L18.43 213.23 L18.75 213.05 L19.08 212.89 L19.41 212.76 L19.75 212.64 L20.09 212.54 L20.42 212.46 L20.76 212.40 L21.10 212.35 L21.45 212.32 L21.79 212.30 L22.14 212.29 L22.50 212.29 L22.85 212.31 L23.21 212.34 L23.56 212.38 L23.92 212.43 L24.27 212.50 L24.62 212.58 L24.97 212.67 L25.32 212.78 L25.66 212.90 L26.00 213.04 L26.33 213.19 L26.66 213.35 L26.98 213.53 L27.30 213.72 L27.61 213.92 L27.91 214.14 L28.20 214.37 L28.49 214.61 L28.76 214.87 L29.03 215.14 L29.29 215.43 L29.53 215.73 L29.77 216.05 L29.98 216.38 L30.18 216.72 L30.37 217.07 L30.53 217.43 L30.67 217.80 L30.79 218.17 L30.89 218.55 L30.97 218.94 L31.02 219.32 L31.05 219.72 L31.05 220.10 L31.03 220.49 L30.98 220.87 L30.89 221.23 L30.78 221.58 L30.63 221.92 L30.45 222.24 L30.23 222.55 L29.99 222.83 L29.73 223.10 L29.44 223.33 L29.13 223.54 L28.81 223.72 L28.47 223.86 L28.13 223.98 L27.78 224.06 L27.44 224.12 L27.08 224.15 L26.71 224.15 L26.33 224.14 L25.93 224.11 L25.51 224.07 L25.09 224.02 L24.91 225.78 L25.35 225.81 L25.80 225.85 L26.26 225.87 L26.73 225.86 L27.21 225.83 L27.70 225.77 L28.18 225.65 L28.66 225.49 L29.12 225.28 L29.55 225.04 L29.96 224.76 L30.35 224.45 L30.71 224.10 L31.04 223.74 L31.33 223.34 L31.60 222.93 L31.82 222.50 L32.01 222.05 L32.16 221.58 L32.27 221.11 L32.35 220.64 L32.39 220.16 L32.40 219.69 L32.39 219.22 L32.35 218.75 L32.29 218.29 L32.21 217.83 L32.11 217.38 L31.99 216.93 L31.86 216.48 L31.71 216.04 L31.55 215.61 L31.38 215.17 L31.18 214.74 L30.97 214.32 L30.74 213.90 L30.48 213.49 L30.21 213.09 L29.91 212.71 L29.59 212.34 L29.25 211.99 L28.89 211.65 L28.51 211.34 L28.12 211.04 L27.71 210.76 L27.28 210.50 L26.85 210.27 L26.40 210.05 L25.94 209.86 L25.47 209.69 L24.99 209.55 L24.51 209.43 L24.02 209.34 L23.52 209.27 L23.02 209.24 L22.51 209.23 L22.01 209.25 L21.50 209.30 L21.00 209.39 L20.50 209.51 L20.01 209.66 L19.53 209.85 L19.07 210.07 L18.62 210.33 L18.20 210.61 L17.79 210.92 L17.41 211.26 L17.05 211.63 L16.72 212.02 L16.42 212.43 L16.15 212.86 L15.92 213.32 L15.72 213.78 L15.57 214.24 L15.45 214.70 L15.36 215.16 L15.28 215.61 L15.21 216.05 L15.15 216.49Z"/>
</g>
</svg>
</body></html>
